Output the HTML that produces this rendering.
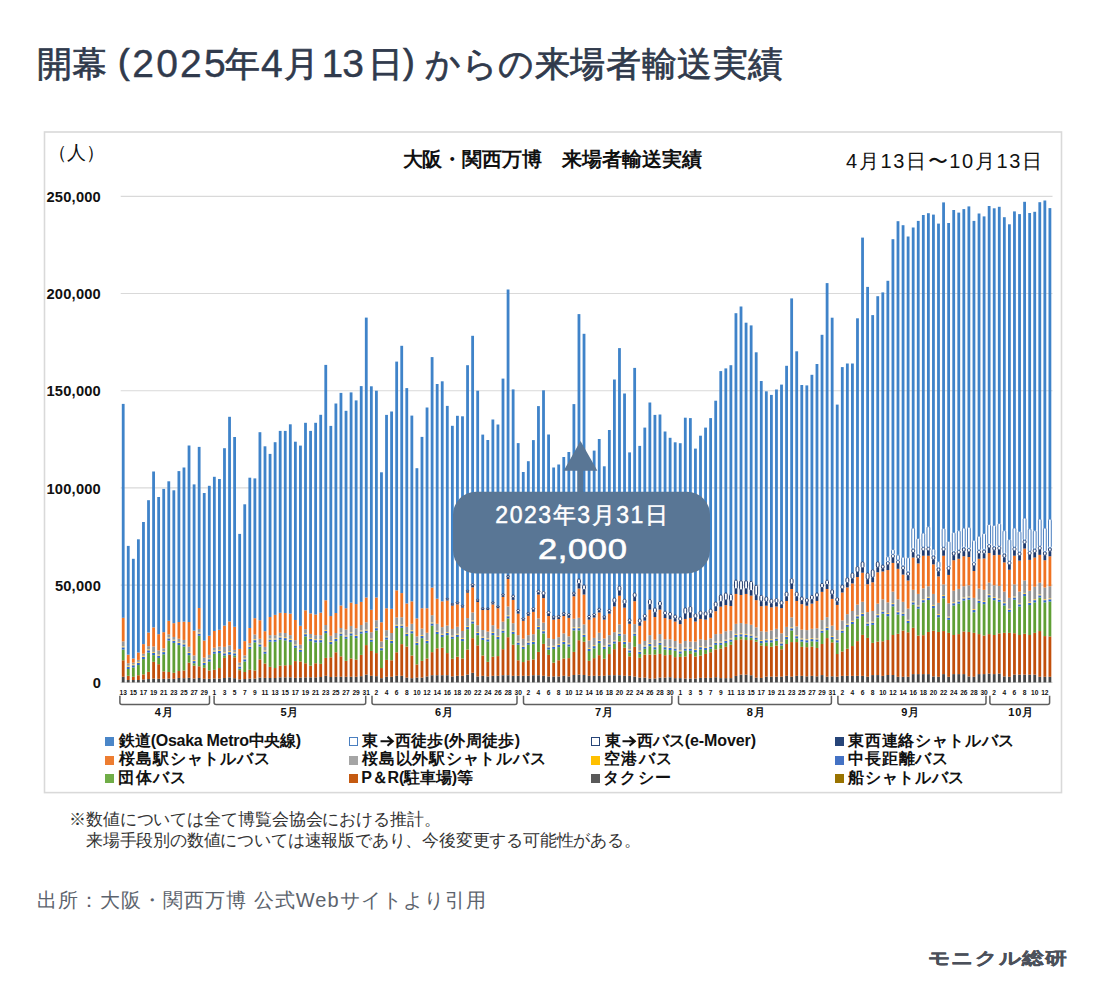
<!DOCTYPE html>
<html><head><meta charset="utf-8"><style>
html,body{margin:0;padding:0;background:#fff;width:1104px;height:1004px;overflow:hidden;position:relative;font-family:"Liberation Sans",sans-serif}
.chart{position:absolute;left:0;top:0}
.t{position:absolute;white-space:nowrap;line-height:1}
.tl{color:#303a4c;-webkit-text-stroke:0.7px #303a4c}
.unit{left:48px;top:143px;font-size:19px;color:#111}
.yl{position:absolute;right:1003px;font-size:14.7px;font-weight:bold;color:#111;line-height:16px;letter-spacing:0.2px;white-space:nowrap}
.ml{position:absolute;top:706.3px;width:60px;text-align:center;font-size:11px;font-weight:bold;color:#111;line-height:12px;letter-spacing:0.8px}
.lsq{position:absolute;width:9px;height:9px}
</style></head><body>
<svg class="chart" width="1104" height="1004" viewBox="0 0 1104 1004">
<rect x="44.5" y="132" width="1017" height="660.6" fill="#fff" stroke="#d9d9d9" stroke-width="1.6"/>
<line x1="120.7" y1="682.40" x2="1052.5" y2="682.40" stroke="#d9d9d9" stroke-width="1.2"/><line x1="120.7" y1="585.18" x2="1052.5" y2="585.18" stroke="#d9d9d9" stroke-width="1.2"/><line x1="120.7" y1="487.96" x2="1052.5" y2="487.96" stroke="#d9d9d9" stroke-width="1.2"/><line x1="120.7" y1="390.74" x2="1052.5" y2="390.74" stroke="#d9d9d9" stroke-width="1.2"/><line x1="120.7" y1="293.52" x2="1052.5" y2="293.52" stroke="#d9d9d9" stroke-width="1.2"/><line x1="120.7" y1="196.30" x2="1052.5" y2="196.30" stroke="#d9d9d9" stroke-width="1.2"/>
<g><rect x="121.80" y="676.77" width="2.8" height="5.63" fill="#464646"/><rect x="121.80" y="660.27" width="2.8" height="16.50" fill="#c24f0c"/><rect x="121.80" y="649.51" width="2.8" height="10.76" fill="#5f9f35"/><rect x="121.80" y="647.31" width="2.8" height="2.20" fill="#2f67c4"/><rect x="121.80" y="646.31" width="2.8" height="1.00" fill="#f5c040"/><rect x="121.80" y="641.38" width="2.8" height="4.93" fill="#959595"/><rect x="121.80" y="617.82" width="2.8" height="23.55" fill="#ef7222"/><rect x="121.80" y="403.90" width="2.8" height="213.92" fill="#3f83c9"/><rect x="126.86" y="680.00" width="2.8" height="2.40" fill="#464646"/><rect x="126.86" y="675.81" width="2.8" height="4.18" fill="#c24f0c"/><rect x="126.86" y="669.00" width="2.8" height="6.81" fill="#5f9f35"/><rect x="126.86" y="666.80" width="2.8" height="2.20" fill="#2f67c4"/><rect x="126.86" y="665.80" width="2.8" height="1.00" fill="#f5c040"/><rect x="126.86" y="663.26" width="2.8" height="2.54" fill="#959595"/><rect x="126.86" y="654.65" width="2.8" height="8.61" fill="#ef7222"/><rect x="126.86" y="545.90" width="2.8" height="108.75" fill="#3f83c9"/><rect x="131.93" y="680.00" width="2.8" height="2.40" fill="#464646"/><rect x="131.93" y="676.77" width="2.8" height="3.23" fill="#c24f0c"/><rect x="131.93" y="667.44" width="2.8" height="9.33" fill="#5f9f35"/><rect x="131.93" y="665.24" width="2.8" height="2.20" fill="#2f67c4"/><rect x="131.93" y="664.24" width="2.8" height="1.00" fill="#f5c040"/><rect x="131.93" y="662.66" width="2.8" height="1.58" fill="#959595"/><rect x="131.93" y="658.47" width="2.8" height="4.18" fill="#ef7222"/><rect x="131.93" y="558.80" width="2.8" height="99.67" fill="#3f83c9"/><rect x="136.99" y="680.00" width="2.8" height="2.40" fill="#464646"/><rect x="136.99" y="675.21" width="2.8" height="4.78" fill="#c24f0c"/><rect x="136.99" y="665.05" width="2.8" height="10.16" fill="#5f9f35"/><rect x="136.99" y="662.85" width="2.8" height="2.20" fill="#2f67c4"/><rect x="136.99" y="661.85" width="2.8" height="1.00" fill="#f5c040"/><rect x="136.99" y="659.91" width="2.8" height="1.94" fill="#959595"/><rect x="136.99" y="652.50" width="2.8" height="7.41" fill="#ef7222"/><rect x="136.99" y="539.30" width="2.8" height="113.20" fill="#3f83c9"/><rect x="142.06" y="679.40" width="2.8" height="3.00" fill="#464646"/><rect x="142.06" y="674.38" width="2.8" height="5.02" fill="#c24f0c"/><rect x="142.06" y="659.07" width="2.8" height="15.30" fill="#5f9f35"/><rect x="142.06" y="656.87" width="2.8" height="2.20" fill="#2f67c4"/><rect x="142.06" y="655.87" width="2.8" height="1.00" fill="#f5c040"/><rect x="142.06" y="653.69" width="2.8" height="2.18" fill="#959595"/><rect x="142.06" y="644.13" width="2.8" height="9.56" fill="#ef7222"/><rect x="142.06" y="522.00" width="2.8" height="122.13" fill="#3f83c9"/><rect x="147.12" y="679.04" width="2.8" height="3.36" fill="#464646"/><rect x="147.12" y="671.87" width="2.8" height="7.17" fill="#c24f0c"/><rect x="147.12" y="652.50" width="2.8" height="19.37" fill="#5f9f35"/><rect x="147.12" y="650.30" width="2.8" height="2.20" fill="#2f67c4"/><rect x="147.12" y="649.30" width="2.8" height="1.00" fill="#f5c040"/><rect x="147.12" y="646.16" width="2.8" height="3.14" fill="#959595"/><rect x="147.12" y="632.53" width="2.8" height="13.63" fill="#ef7222"/><rect x="147.12" y="500.20" width="2.8" height="132.33" fill="#3f83c9"/><rect x="152.18" y="678.56" width="2.8" height="3.84" fill="#464646"/><rect x="152.18" y="661.82" width="2.8" height="16.74" fill="#c24f0c"/><rect x="152.18" y="655.13" width="2.8" height="6.70" fill="#5f9f35"/><rect x="152.18" y="652.93" width="2.8" height="2.20" fill="#2f67c4"/><rect x="152.18" y="651.93" width="2.8" height="1.00" fill="#f5c040"/><rect x="152.18" y="646.52" width="2.8" height="5.41" fill="#959595"/><rect x="152.18" y="627.39" width="2.8" height="19.13" fill="#ef7222"/><rect x="152.18" y="471.50" width="2.8" height="155.89" fill="#3f83c9"/><rect x="157.25" y="678.80" width="2.8" height="3.60" fill="#464646"/><rect x="157.25" y="664.21" width="2.8" height="14.59" fill="#c24f0c"/><rect x="157.25" y="657.88" width="2.8" height="6.34" fill="#5f9f35"/><rect x="157.25" y="655.68" width="2.8" height="2.20" fill="#2f67c4"/><rect x="157.25" y="654.68" width="2.8" height="1.00" fill="#f5c040"/><rect x="157.25" y="650.46" width="2.8" height="4.21" fill="#959595"/><rect x="157.25" y="634.20" width="2.8" height="16.26" fill="#ef7222"/><rect x="157.25" y="497.00" width="2.8" height="137.20" fill="#3f83c9"/><rect x="162.31" y="678.80" width="2.8" height="3.60" fill="#464646"/><rect x="162.31" y="671.39" width="2.8" height="7.41" fill="#c24f0c"/><rect x="162.31" y="654.29" width="2.8" height="17.10" fill="#5f9f35"/><rect x="162.31" y="652.09" width="2.8" height="2.20" fill="#2f67c4"/><rect x="162.31" y="651.09" width="2.8" height="1.00" fill="#f5c040"/><rect x="162.31" y="648.31" width="2.8" height="2.78" fill="#959595"/><rect x="162.31" y="632.17" width="2.8" height="16.14" fill="#ef7222"/><rect x="162.31" y="488.90" width="2.8" height="143.27" fill="#3f83c9"/><rect x="167.38" y="678.56" width="2.8" height="3.84" fill="#464646"/><rect x="167.38" y="671.98" width="2.8" height="6.58" fill="#c24f0c"/><rect x="167.38" y="640.54" width="2.8" height="31.44" fill="#5f9f35"/><rect x="167.38" y="638.34" width="2.8" height="2.20" fill="#2f67c4"/><rect x="167.38" y="637.34" width="2.8" height="1.00" fill="#f5c040"/><rect x="167.38" y="634.32" width="2.8" height="3.02" fill="#959595"/><rect x="167.38" y="620.81" width="2.8" height="13.51" fill="#ef7222"/><rect x="167.38" y="481.30" width="2.8" height="139.51" fill="#3f83c9"/><rect x="172.44" y="678.80" width="2.8" height="3.60" fill="#464646"/><rect x="172.44" y="672.82" width="2.8" height="5.98" fill="#c24f0c"/><rect x="172.44" y="642.93" width="2.8" height="29.89" fill="#5f9f35"/><rect x="172.44" y="640.73" width="2.8" height="2.20" fill="#2f67c4"/><rect x="172.44" y="639.73" width="2.8" height="1.00" fill="#f5c040"/><rect x="172.44" y="636.95" width="2.8" height="2.78" fill="#959595"/><rect x="172.44" y="623.20" width="2.8" height="13.75" fill="#ef7222"/><rect x="172.44" y="490.30" width="2.8" height="132.90" fill="#3f83c9"/><rect x="177.50" y="677.96" width="2.8" height="4.44" fill="#464646"/><rect x="177.50" y="671.03" width="2.8" height="6.93" fill="#c24f0c"/><rect x="177.50" y="645.08" width="2.8" height="25.94" fill="#5f9f35"/><rect x="177.50" y="642.88" width="2.8" height="2.20" fill="#2f67c4"/><rect x="177.50" y="641.88" width="2.8" height="1.00" fill="#f5c040"/><rect x="177.50" y="638.75" width="2.8" height="3.14" fill="#959595"/><rect x="177.50" y="622.01" width="2.8" height="16.74" fill="#ef7222"/><rect x="177.50" y="471.10" width="2.8" height="150.91" fill="#3f83c9"/><rect x="182.57" y="678.20" width="2.8" height="4.20" fill="#464646"/><rect x="182.57" y="670.43" width="2.8" height="7.77" fill="#c24f0c"/><rect x="182.57" y="646.52" width="2.8" height="23.91" fill="#5f9f35"/><rect x="182.57" y="644.32" width="2.8" height="2.20" fill="#2f67c4"/><rect x="182.57" y="643.32" width="2.8" height="1.00" fill="#f5c040"/><rect x="182.57" y="639.94" width="2.8" height="3.38" fill="#959595"/><rect x="182.57" y="621.65" width="2.8" height="18.29" fill="#ef7222"/><rect x="182.57" y="467.50" width="2.8" height="154.15" fill="#3f83c9"/><rect x="187.63" y="677.84" width="2.8" height="4.56" fill="#464646"/><rect x="187.63" y="662.66" width="2.8" height="15.18" fill="#c24f0c"/><rect x="187.63" y="655.13" width="2.8" height="7.53" fill="#5f9f35"/><rect x="187.63" y="652.93" width="2.8" height="2.20" fill="#2f67c4"/><rect x="187.63" y="651.93" width="2.8" height="1.00" fill="#f5c040"/><rect x="187.63" y="646.76" width="2.8" height="5.17" fill="#959595"/><rect x="187.63" y="622.01" width="2.8" height="24.75" fill="#ef7222"/><rect x="187.63" y="445.50" width="2.8" height="176.51" fill="#3f83c9"/><rect x="192.70" y="678.56" width="2.8" height="3.84" fill="#464646"/><rect x="192.70" y="665.65" width="2.8" height="12.91" fill="#c24f0c"/><rect x="192.70" y="663.26" width="2.8" height="2.39" fill="#5f9f35"/><rect x="192.70" y="661.06" width="2.8" height="2.20" fill="#2f67c4"/><rect x="192.70" y="660.06" width="2.8" height="1.00" fill="#f5c040"/><rect x="192.70" y="655.49" width="2.8" height="4.57" fill="#959595"/><rect x="192.70" y="630.62" width="2.8" height="24.87" fill="#ef7222"/><rect x="192.70" y="484.40" width="2.8" height="146.22" fill="#3f83c9"/><rect x="197.76" y="677.96" width="2.8" height="4.44" fill="#464646"/><rect x="197.76" y="666.25" width="2.8" height="11.72" fill="#c24f0c"/><rect x="197.76" y="635.76" width="2.8" height="30.49" fill="#5f9f35"/><rect x="197.76" y="633.56" width="2.8" height="2.20" fill="#2f67c4"/><rect x="197.76" y="632.56" width="2.8" height="1.00" fill="#f5c040"/><rect x="197.76" y="628.94" width="2.8" height="3.61" fill="#959595"/><rect x="197.76" y="608.02" width="2.8" height="20.92" fill="#ef7222"/><rect x="197.76" y="446.90" width="2.8" height="161.12" fill="#3f83c9"/><rect x="202.82" y="678.80" width="2.8" height="3.60" fill="#464646"/><rect x="202.82" y="667.80" width="2.8" height="11.00" fill="#c24f0c"/><rect x="202.82" y="665.05" width="2.8" height="2.75" fill="#5f9f35"/><rect x="202.82" y="662.85" width="2.8" height="2.20" fill="#2f67c4"/><rect x="202.82" y="661.85" width="2.8" height="1.00" fill="#f5c040"/><rect x="202.82" y="657.64" width="2.8" height="4.21" fill="#959595"/><rect x="202.82" y="640.54" width="2.8" height="17.10" fill="#ef7222"/><rect x="202.82" y="493.00" width="2.8" height="147.54" fill="#3f83c9"/><rect x="207.89" y="678.80" width="2.8" height="3.60" fill="#464646"/><rect x="207.89" y="670.43" width="2.8" height="8.37" fill="#c24f0c"/><rect x="207.89" y="661.46" width="2.8" height="8.97" fill="#5f9f35"/><rect x="207.89" y="659.26" width="2.8" height="2.20" fill="#2f67c4"/><rect x="207.89" y="658.26" width="2.8" height="1.00" fill="#f5c040"/><rect x="207.89" y="654.89" width="2.8" height="3.38" fill="#959595"/><rect x="207.89" y="635.76" width="2.8" height="19.13" fill="#ef7222"/><rect x="207.89" y="485.80" width="2.8" height="149.96" fill="#3f83c9"/><rect x="212.95" y="678.56" width="2.8" height="3.84" fill="#464646"/><rect x="212.95" y="669.83" width="2.8" height="8.73" fill="#c24f0c"/><rect x="212.95" y="653.69" width="2.8" height="16.14" fill="#5f9f35"/><rect x="212.95" y="651.49" width="2.8" height="2.20" fill="#2f67c4"/><rect x="212.95" y="650.49" width="2.8" height="1.00" fill="#f5c040"/><rect x="212.95" y="647.71" width="2.8" height="2.78" fill="#959595"/><rect x="212.95" y="630.98" width="2.8" height="16.74" fill="#ef7222"/><rect x="212.95" y="476.80" width="2.8" height="154.18" fill="#3f83c9"/><rect x="218.02" y="678.56" width="2.8" height="3.84" fill="#464646"/><rect x="218.02" y="668.04" width="2.8" height="10.52" fill="#c24f0c"/><rect x="218.02" y="653.09" width="2.8" height="14.95" fill="#5f9f35"/><rect x="218.02" y="650.89" width="2.8" height="2.20" fill="#2f67c4"/><rect x="218.02" y="649.89" width="2.8" height="1.00" fill="#f5c040"/><rect x="218.02" y="646.52" width="2.8" height="3.38" fill="#959595"/><rect x="218.02" y="629.78" width="2.8" height="16.74" fill="#ef7222"/><rect x="218.02" y="479.00" width="2.8" height="150.78" fill="#3f83c9"/><rect x="223.08" y="677.96" width="2.8" height="4.44" fill="#464646"/><rect x="223.08" y="657.88" width="2.8" height="20.09" fill="#c24f0c"/><rect x="223.08" y="655.49" width="2.8" height="2.39" fill="#5f9f35"/><rect x="223.08" y="653.29" width="2.8" height="2.20" fill="#2f67c4"/><rect x="223.08" y="652.29" width="2.8" height="1.00" fill="#f5c040"/><rect x="223.08" y="646.88" width="2.8" height="5.41" fill="#959595"/><rect x="223.08" y="625.60" width="2.8" height="21.28" fill="#ef7222"/><rect x="223.08" y="448.20" width="2.8" height="177.40" fill="#3f83c9"/><rect x="228.14" y="677.36" width="2.8" height="5.04" fill="#464646"/><rect x="228.14" y="654.89" width="2.8" height="22.48" fill="#c24f0c"/><rect x="228.14" y="654.29" width="2.8" height="0.60" fill="#5f9f35"/><rect x="228.14" y="652.09" width="2.8" height="2.20" fill="#2f67c4"/><rect x="228.14" y="651.09" width="2.8" height="1.00" fill="#f5c040"/><rect x="228.14" y="645.32" width="2.8" height="5.77" fill="#959595"/><rect x="228.14" y="621.41" width="2.8" height="23.91" fill="#ef7222"/><rect x="228.14" y="416.80" width="2.8" height="204.61" fill="#3f83c9"/><rect x="233.21" y="678.20" width="2.8" height="4.20" fill="#464646"/><rect x="233.21" y="657.28" width="2.8" height="20.92" fill="#c24f0c"/><rect x="233.21" y="655.49" width="2.8" height="1.79" fill="#5f9f35"/><rect x="233.21" y="653.29" width="2.8" height="2.20" fill="#2f67c4"/><rect x="233.21" y="652.29" width="2.8" height="1.00" fill="#f5c040"/><rect x="233.21" y="649.87" width="2.8" height="2.42" fill="#959595"/><rect x="233.21" y="626.79" width="2.8" height="23.08" fill="#ef7222"/><rect x="233.21" y="437.00" width="2.8" height="189.79" fill="#3f83c9"/><rect x="238.27" y="679.40" width="2.8" height="3.00" fill="#464646"/><rect x="238.27" y="670.19" width="2.8" height="9.21" fill="#c24f0c"/><rect x="238.27" y="668.64" width="2.8" height="1.55" fill="#5f9f35"/><rect x="238.27" y="666.44" width="2.8" height="2.20" fill="#2f67c4"/><rect x="238.27" y="665.44" width="2.8" height="1.00" fill="#f5c040"/><rect x="238.27" y="662.66" width="2.8" height="2.78" fill="#959595"/><rect x="238.27" y="648.91" width="2.8" height="13.75" fill="#ef7222"/><rect x="238.27" y="533.90" width="2.8" height="115.01" fill="#3f83c9"/><rect x="243.34" y="679.04" width="2.8" height="3.36" fill="#464646"/><rect x="243.34" y="671.98" width="2.8" height="7.05" fill="#c24f0c"/><rect x="243.34" y="661.46" width="2.8" height="10.52" fill="#5f9f35"/><rect x="243.34" y="659.26" width="2.8" height="2.20" fill="#2f67c4"/><rect x="243.34" y="658.26" width="2.8" height="1.00" fill="#f5c040"/><rect x="243.34" y="655.49" width="2.8" height="2.78" fill="#959595"/><rect x="243.34" y="641.14" width="2.8" height="14.35" fill="#ef7222"/><rect x="243.34" y="504.30" width="2.8" height="136.84" fill="#3f83c9"/><rect x="248.40" y="678.56" width="2.8" height="3.84" fill="#464646"/><rect x="248.40" y="669.83" width="2.8" height="8.73" fill="#c24f0c"/><rect x="248.40" y="648.91" width="2.8" height="20.92" fill="#5f9f35"/><rect x="248.40" y="646.71" width="2.8" height="2.20" fill="#2f67c4"/><rect x="248.40" y="645.71" width="2.8" height="1.00" fill="#f5c040"/><rect x="248.40" y="643.17" width="2.8" height="2.54" fill="#959595"/><rect x="248.40" y="627.99" width="2.8" height="15.18" fill="#ef7222"/><rect x="248.40" y="477.70" width="2.8" height="150.29" fill="#3f83c9"/><rect x="253.46" y="678.56" width="2.8" height="3.84" fill="#464646"/><rect x="253.46" y="670.43" width="2.8" height="8.13" fill="#c24f0c"/><rect x="253.46" y="642.33" width="2.8" height="28.10" fill="#5f9f35"/><rect x="253.46" y="640.13" width="2.8" height="2.20" fill="#2f67c4"/><rect x="253.46" y="639.13" width="2.8" height="1.00" fill="#f5c040"/><rect x="253.46" y="634.56" width="2.8" height="4.57" fill="#959595"/><rect x="253.46" y="618.18" width="2.8" height="16.38" fill="#ef7222"/><rect x="253.46" y="478.40" width="2.8" height="139.78" fill="#3f83c9"/><rect x="258.53" y="677.60" width="2.8" height="4.80" fill="#464646"/><rect x="258.53" y="659.43" width="2.8" height="18.17" fill="#c24f0c"/><rect x="258.53" y="646.52" width="2.8" height="12.91" fill="#5f9f35"/><rect x="258.53" y="644.32" width="2.8" height="2.20" fill="#2f67c4"/><rect x="258.53" y="643.32" width="2.8" height="1.00" fill="#f5c040"/><rect x="258.53" y="638.75" width="2.8" height="4.57" fill="#959595"/><rect x="258.53" y="620.22" width="2.8" height="18.53" fill="#ef7222"/><rect x="258.53" y="432.20" width="2.8" height="188.02" fill="#3f83c9"/><rect x="263.59" y="677.84" width="2.8" height="4.56" fill="#464646"/><rect x="263.59" y="663.50" width="2.8" height="14.35" fill="#c24f0c"/><rect x="263.59" y="653.69" width="2.8" height="9.80" fill="#5f9f35"/><rect x="263.59" y="651.49" width="2.8" height="2.20" fill="#2f67c4"/><rect x="263.59" y="650.49" width="2.8" height="1.00" fill="#f5c040"/><rect x="263.59" y="646.88" width="2.8" height="3.61" fill="#959595"/><rect x="263.59" y="631.21" width="2.8" height="15.66" fill="#ef7222"/><rect x="263.59" y="446.30" width="2.8" height="184.91" fill="#3f83c9"/><rect x="268.66" y="677.96" width="2.8" height="4.44" fill="#464646"/><rect x="268.66" y="666.84" width="2.8" height="11.12" fill="#c24f0c"/><rect x="268.66" y="641.74" width="2.8" height="25.11" fill="#5f9f35"/><rect x="268.66" y="639.54" width="2.8" height="2.20" fill="#2f67c4"/><rect x="268.66" y="638.54" width="2.8" height="1.00" fill="#f5c040"/><rect x="268.66" y="635.16" width="2.8" height="3.38" fill="#959595"/><rect x="268.66" y="616.99" width="2.8" height="18.17" fill="#ef7222"/><rect x="268.66" y="453.90" width="2.8" height="163.09" fill="#3f83c9"/><rect x="273.72" y="677.96" width="2.8" height="4.44" fill="#464646"/><rect x="273.72" y="668.04" width="2.8" height="9.92" fill="#c24f0c"/><rect x="273.72" y="641.74" width="2.8" height="26.30" fill="#5f9f35"/><rect x="273.72" y="639.54" width="2.8" height="2.20" fill="#2f67c4"/><rect x="273.72" y="638.54" width="2.8" height="1.00" fill="#f5c040"/><rect x="273.72" y="635.16" width="2.8" height="3.38" fill="#959595"/><rect x="273.72" y="614.84" width="2.8" height="20.33" fill="#ef7222"/><rect x="273.72" y="442.20" width="2.8" height="172.64" fill="#3f83c9"/><rect x="278.78" y="677.36" width="2.8" height="5.04" fill="#464646"/><rect x="278.78" y="665.65" width="2.8" height="11.72" fill="#c24f0c"/><rect x="278.78" y="639.58" width="2.8" height="26.06" fill="#5f9f35"/><rect x="278.78" y="637.38" width="2.8" height="2.20" fill="#2f67c4"/><rect x="278.78" y="636.38" width="2.8" height="1.00" fill="#f5c040"/><rect x="278.78" y="632.77" width="2.8" height="3.61" fill="#959595"/><rect x="278.78" y="612.80" width="2.8" height="19.97" fill="#ef7222"/><rect x="278.78" y="430.90" width="2.8" height="181.90" fill="#3f83c9"/><rect x="283.85" y="677.36" width="2.8" height="5.04" fill="#464646"/><rect x="283.85" y="665.29" width="2.8" height="12.08" fill="#c24f0c"/><rect x="283.85" y="640.30" width="2.8" height="24.99" fill="#5f9f35"/><rect x="283.85" y="638.10" width="2.8" height="2.20" fill="#2f67c4"/><rect x="283.85" y="637.10" width="2.8" height="1.00" fill="#f5c040"/><rect x="283.85" y="633.01" width="2.8" height="4.09" fill="#959595"/><rect x="283.85" y="613.04" width="2.8" height="19.97" fill="#ef7222"/><rect x="283.85" y="430.90" width="2.8" height="182.14" fill="#3f83c9"/><rect x="288.91" y="677.36" width="2.8" height="5.04" fill="#464646"/><rect x="288.91" y="665.05" width="2.8" height="12.31" fill="#c24f0c"/><rect x="288.91" y="642.09" width="2.8" height="22.96" fill="#5f9f35"/><rect x="288.91" y="639.89" width="2.8" height="2.20" fill="#2f67c4"/><rect x="288.91" y="638.89" width="2.8" height="1.00" fill="#f5c040"/><rect x="288.91" y="635.16" width="2.8" height="3.73" fill="#959595"/><rect x="288.91" y="613.64" width="2.8" height="21.52" fill="#ef7222"/><rect x="288.91" y="424.30" width="2.8" height="189.34" fill="#3f83c9"/><rect x="293.98" y="677.84" width="2.8" height="4.56" fill="#464646"/><rect x="293.98" y="661.10" width="2.8" height="16.74" fill="#c24f0c"/><rect x="293.98" y="647.71" width="2.8" height="13.39" fill="#5f9f35"/><rect x="293.98" y="645.51" width="2.8" height="2.20" fill="#2f67c4"/><rect x="293.98" y="644.51" width="2.8" height="1.00" fill="#f5c040"/><rect x="293.98" y="640.18" width="2.8" height="4.33" fill="#959595"/><rect x="293.98" y="619.98" width="2.8" height="20.21" fill="#ef7222"/><rect x="293.98" y="441.70" width="2.8" height="178.28" fill="#3f83c9"/><rect x="299.04" y="677.60" width="2.8" height="4.80" fill="#464646"/><rect x="299.04" y="661.46" width="2.8" height="16.14" fill="#c24f0c"/><rect x="299.04" y="651.90" width="2.8" height="9.56" fill="#5f9f35"/><rect x="299.04" y="649.70" width="2.8" height="2.20" fill="#2f67c4"/><rect x="299.04" y="648.70" width="2.8" height="1.00" fill="#f5c040"/><rect x="299.04" y="644.73" width="2.8" height="3.97" fill="#959595"/><rect x="299.04" y="625.83" width="2.8" height="18.89" fill="#ef7222"/><rect x="299.04" y="445.60" width="2.8" height="180.23" fill="#3f83c9"/><rect x="304.10" y="677.36" width="2.8" height="5.04" fill="#464646"/><rect x="304.10" y="663.26" width="2.8" height="14.11" fill="#c24f0c"/><rect x="304.10" y="636.36" width="2.8" height="26.90" fill="#5f9f35"/><rect x="304.10" y="634.16" width="2.8" height="2.20" fill="#2f67c4"/><rect x="304.10" y="633.16" width="2.8" height="1.00" fill="#f5c040"/><rect x="304.10" y="629.18" width="2.8" height="3.97" fill="#959595"/><rect x="304.10" y="610.29" width="2.8" height="18.89" fill="#ef7222"/><rect x="304.10" y="422.80" width="2.8" height="187.49" fill="#3f83c9"/><rect x="309.17" y="677.36" width="2.8" height="5.04" fill="#464646"/><rect x="309.17" y="665.65" width="2.8" height="11.72" fill="#c24f0c"/><rect x="309.17" y="641.14" width="2.8" height="24.51" fill="#5f9f35"/><rect x="309.17" y="638.94" width="2.8" height="2.20" fill="#2f67c4"/><rect x="309.17" y="637.94" width="2.8" height="1.00" fill="#f5c040"/><rect x="309.17" y="633.96" width="2.8" height="3.97" fill="#959595"/><rect x="309.17" y="613.40" width="2.8" height="20.56" fill="#ef7222"/><rect x="309.17" y="430.90" width="2.8" height="182.50" fill="#3f83c9"/><rect x="314.23" y="677.36" width="2.8" height="5.04" fill="#464646"/><rect x="314.23" y="663.26" width="2.8" height="14.11" fill="#c24f0c"/><rect x="314.23" y="642.33" width="2.8" height="20.92" fill="#5f9f35"/><rect x="314.23" y="640.13" width="2.8" height="2.20" fill="#2f67c4"/><rect x="314.23" y="639.13" width="2.8" height="1.00" fill="#f5c040"/><rect x="314.23" y="635.16" width="2.8" height="3.97" fill="#959595"/><rect x="314.23" y="614.48" width="2.8" height="20.68" fill="#ef7222"/><rect x="314.23" y="422.80" width="2.8" height="191.68" fill="#3f83c9"/><rect x="319.30" y="677.01" width="2.8" height="5.39" fill="#464646"/><rect x="319.30" y="663.85" width="2.8" height="13.15" fill="#c24f0c"/><rect x="319.30" y="642.33" width="2.8" height="21.52" fill="#5f9f35"/><rect x="319.30" y="640.13" width="2.8" height="2.20" fill="#2f67c4"/><rect x="319.30" y="639.13" width="2.8" height="1.00" fill="#f5c040"/><rect x="319.30" y="635.16" width="2.8" height="3.97" fill="#959595"/><rect x="319.30" y="612.68" width="2.8" height="22.48" fill="#ef7222"/><rect x="319.30" y="414.80" width="2.8" height="197.88" fill="#3f83c9"/><rect x="324.36" y="675.81" width="2.8" height="6.59" fill="#464646"/><rect x="324.36" y="657.88" width="2.8" height="17.93" fill="#c24f0c"/><rect x="324.36" y="633.13" width="2.8" height="24.75" fill="#5f9f35"/><rect x="324.36" y="630.93" width="2.8" height="2.20" fill="#2f67c4"/><rect x="324.36" y="629.93" width="2.8" height="1.00" fill="#f5c040"/><rect x="324.36" y="625.00" width="2.8" height="4.93" fill="#959595"/><rect x="324.36" y="600.25" width="2.8" height="24.75" fill="#ef7222"/><rect x="324.36" y="364.90" width="2.8" height="235.35" fill="#3f83c9"/><rect x="329.42" y="677.01" width="2.8" height="5.39" fill="#464646"/><rect x="329.42" y="657.28" width="2.8" height="19.73" fill="#c24f0c"/><rect x="329.42" y="644.13" width="2.8" height="13.15" fill="#5f9f35"/><rect x="329.42" y="641.93" width="2.8" height="2.20" fill="#2f67c4"/><rect x="329.42" y="640.93" width="2.8" height="1.00" fill="#f5c040"/><rect x="329.42" y="635.76" width="2.8" height="5.17" fill="#959595"/><rect x="329.42" y="616.03" width="2.8" height="19.73" fill="#ef7222"/><rect x="329.42" y="425.90" width="2.8" height="190.13" fill="#3f83c9"/><rect x="334.49" y="676.77" width="2.8" height="5.63" fill="#464646"/><rect x="334.49" y="652.26" width="2.8" height="24.51" fill="#c24f0c"/><rect x="334.49" y="641.14" width="2.8" height="11.12" fill="#5f9f35"/><rect x="334.49" y="638.94" width="2.8" height="2.20" fill="#2f67c4"/><rect x="334.49" y="637.94" width="2.8" height="1.00" fill="#f5c040"/><rect x="334.49" y="633.01" width="2.8" height="4.93" fill="#959595"/><rect x="334.49" y="613.04" width="2.8" height="19.97" fill="#ef7222"/><rect x="334.49" y="403.50" width="2.8" height="209.54" fill="#3f83c9"/><rect x="339.55" y="676.77" width="2.8" height="5.63" fill="#464646"/><rect x="339.55" y="656.32" width="2.8" height="20.44" fill="#c24f0c"/><rect x="339.55" y="635.76" width="2.8" height="20.56" fill="#5f9f35"/><rect x="339.55" y="633.56" width="2.8" height="2.20" fill="#2f67c4"/><rect x="339.55" y="632.56" width="2.8" height="1.00" fill="#f5c040"/><rect x="339.55" y="627.99" width="2.8" height="4.57" fill="#959595"/><rect x="339.55" y="605.51" width="2.8" height="22.48" fill="#ef7222"/><rect x="339.55" y="392.90" width="2.8" height="212.61" fill="#3f83c9"/><rect x="344.62" y="676.77" width="2.8" height="5.63" fill="#464646"/><rect x="344.62" y="660.87" width="2.8" height="15.90" fill="#c24f0c"/><rect x="344.62" y="638.75" width="2.8" height="22.12" fill="#5f9f35"/><rect x="344.62" y="636.55" width="2.8" height="2.20" fill="#2f67c4"/><rect x="344.62" y="635.55" width="2.8" height="1.00" fill="#f5c040"/><rect x="344.62" y="629.54" width="2.8" height="6.01" fill="#959595"/><rect x="344.62" y="608.26" width="2.8" height="21.28" fill="#ef7222"/><rect x="344.62" y="410.80" width="2.8" height="197.46" fill="#3f83c9"/><rect x="349.68" y="676.77" width="2.8" height="5.63" fill="#464646"/><rect x="349.68" y="658.47" width="2.8" height="18.29" fill="#c24f0c"/><rect x="349.68" y="635.52" width="2.8" height="22.96" fill="#5f9f35"/><rect x="349.68" y="633.32" width="2.8" height="2.20" fill="#2f67c4"/><rect x="349.68" y="632.32" width="2.8" height="1.00" fill="#f5c040"/><rect x="349.68" y="625.95" width="2.8" height="6.36" fill="#959595"/><rect x="349.68" y="602.64" width="2.8" height="23.31" fill="#ef7222"/><rect x="349.68" y="392.40" width="2.8" height="210.24" fill="#3f83c9"/><rect x="354.74" y="676.77" width="2.8" height="5.63" fill="#464646"/><rect x="354.74" y="659.67" width="2.8" height="17.10" fill="#c24f0c"/><rect x="354.74" y="638.15" width="2.8" height="21.52" fill="#5f9f35"/><rect x="354.74" y="635.95" width="2.8" height="2.20" fill="#2f67c4"/><rect x="354.74" y="634.95" width="2.8" height="1.00" fill="#f5c040"/><rect x="354.74" y="628.35" width="2.8" height="6.60" fill="#959595"/><rect x="354.74" y="604.07" width="2.8" height="24.27" fill="#ef7222"/><rect x="354.74" y="400.40" width="2.8" height="203.67" fill="#3f83c9"/><rect x="359.81" y="676.17" width="2.8" height="6.23" fill="#464646"/><rect x="359.81" y="654.89" width="2.8" height="21.28" fill="#c24f0c"/><rect x="359.81" y="633.61" width="2.8" height="21.28" fill="#5f9f35"/><rect x="359.81" y="631.41" width="2.8" height="2.20" fill="#2f67c4"/><rect x="359.81" y="630.41" width="2.8" height="1.00" fill="#f5c040"/><rect x="359.81" y="625.00" width="2.8" height="5.41" fill="#959595"/><rect x="359.81" y="601.92" width="2.8" height="23.08" fill="#ef7222"/><rect x="359.81" y="386.10" width="2.8" height="215.82" fill="#3f83c9"/><rect x="364.87" y="674.62" width="2.8" height="7.78" fill="#464646"/><rect x="364.87" y="645.08" width="2.8" height="29.53" fill="#c24f0c"/><rect x="364.87" y="632.77" width="2.8" height="12.31" fill="#5f9f35"/><rect x="364.87" y="630.57" width="2.8" height="2.20" fill="#2f67c4"/><rect x="364.87" y="629.57" width="2.8" height="1.00" fill="#f5c040"/><rect x="364.87" y="622.25" width="2.8" height="7.32" fill="#959595"/><rect x="364.87" y="597.50" width="2.8" height="24.75" fill="#ef7222"/><rect x="364.87" y="317.60" width="2.8" height="279.90" fill="#3f83c9"/><rect x="369.94" y="675.81" width="2.8" height="6.59" fill="#464646"/><rect x="369.94" y="650.94" width="2.8" height="24.87" fill="#c24f0c"/><rect x="369.94" y="641.74" width="2.8" height="9.21" fill="#5f9f35"/><rect x="369.94" y="639.54" width="2.8" height="2.20" fill="#2f67c4"/><rect x="369.94" y="638.54" width="2.8" height="1.00" fill="#f5c040"/><rect x="369.94" y="632.17" width="2.8" height="6.36" fill="#959595"/><rect x="369.94" y="609.81" width="2.8" height="22.36" fill="#ef7222"/><rect x="369.94" y="386.30" width="2.8" height="223.51" fill="#3f83c9"/><rect x="375.00" y="676.17" width="2.8" height="6.23" fill="#464646"/><rect x="375.00" y="653.09" width="2.8" height="23.08" fill="#c24f0c"/><rect x="375.00" y="630.38" width="2.8" height="22.72" fill="#5f9f35"/><rect x="375.00" y="628.18" width="2.8" height="2.20" fill="#2f67c4"/><rect x="375.00" y="627.18" width="2.8" height="1.00" fill="#f5c040"/><rect x="375.00" y="620.22" width="2.8" height="6.96" fill="#959595"/><rect x="375.00" y="597.50" width="2.8" height="22.72" fill="#ef7222"/><rect x="375.00" y="390.70" width="2.8" height="206.80" fill="#3f83c9"/><rect x="380.06" y="678.20" width="2.8" height="4.20" fill="#464646"/><rect x="380.06" y="668.04" width="2.8" height="10.16" fill="#c24f0c"/><rect x="380.06" y="650.34" width="2.8" height="17.69" fill="#5f9f35"/><rect x="380.06" y="648.14" width="2.8" height="2.20" fill="#2f67c4"/><rect x="380.06" y="647.14" width="2.8" height="1.00" fill="#f5c040"/><rect x="380.06" y="641.38" width="2.8" height="5.77" fill="#959595"/><rect x="380.06" y="622.25" width="2.8" height="19.13" fill="#ef7222"/><rect x="380.06" y="472.30" width="2.8" height="149.95" fill="#3f83c9"/><rect x="385.13" y="676.77" width="2.8" height="5.63" fill="#464646"/><rect x="385.13" y="659.91" width="2.8" height="16.86" fill="#c24f0c"/><rect x="385.13" y="639.58" width="2.8" height="20.33" fill="#5f9f35"/><rect x="385.13" y="637.38" width="2.8" height="2.20" fill="#2f67c4"/><rect x="385.13" y="636.38" width="2.8" height="1.00" fill="#f5c040"/><rect x="385.13" y="630.14" width="2.8" height="6.25" fill="#959595"/><rect x="385.13" y="608.26" width="2.8" height="21.88" fill="#ef7222"/><rect x="385.13" y="414.90" width="2.8" height="193.36" fill="#3f83c9"/><rect x="390.19" y="676.77" width="2.8" height="5.63" fill="#464646"/><rect x="390.19" y="660.27" width="2.8" height="16.50" fill="#c24f0c"/><rect x="390.19" y="643.17" width="2.8" height="17.10" fill="#5f9f35"/><rect x="390.19" y="640.97" width="2.8" height="2.20" fill="#2f67c4"/><rect x="390.19" y="639.97" width="2.8" height="1.00" fill="#f5c040"/><rect x="390.19" y="633.01" width="2.8" height="6.96" fill="#959595"/><rect x="390.19" y="608.86" width="2.8" height="24.15" fill="#ef7222"/><rect x="390.19" y="411.50" width="2.8" height="197.36" fill="#3f83c9"/><rect x="395.26" y="675.81" width="2.8" height="6.59" fill="#464646"/><rect x="395.26" y="652.26" width="2.8" height="23.55" fill="#c24f0c"/><rect x="395.26" y="627.99" width="2.8" height="24.27" fill="#5f9f35"/><rect x="395.26" y="625.79" width="2.8" height="2.20" fill="#2f67c4"/><rect x="395.26" y="624.79" width="2.8" height="1.00" fill="#f5c040"/><rect x="395.26" y="617.47" width="2.8" height="7.32" fill="#959595"/><rect x="395.26" y="590.33" width="2.8" height="27.14" fill="#ef7222"/><rect x="395.26" y="361.60" width="2.8" height="228.73" fill="#3f83c9"/><rect x="400.32" y="675.81" width="2.8" height="6.59" fill="#464646"/><rect x="400.32" y="644.13" width="2.8" height="31.68" fill="#c24f0c"/><rect x="400.32" y="627.75" width="2.8" height="16.38" fill="#5f9f35"/><rect x="400.32" y="625.55" width="2.8" height="2.20" fill="#2f67c4"/><rect x="400.32" y="624.55" width="2.8" height="1.00" fill="#f5c040"/><rect x="400.32" y="617.23" width="2.8" height="7.32" fill="#959595"/><rect x="400.32" y="593.08" width="2.8" height="24.15" fill="#ef7222"/><rect x="400.32" y="345.80" width="2.8" height="247.28" fill="#3f83c9"/><rect x="405.38" y="677.60" width="2.8" height="4.80" fill="#464646"/><rect x="405.38" y="646.52" width="2.8" height="31.09" fill="#c24f0c"/><rect x="405.38" y="636.00" width="2.8" height="10.52" fill="#5f9f35"/><rect x="405.38" y="633.80" width="2.8" height="2.20" fill="#2f67c4"/><rect x="405.38" y="632.80" width="2.8" height="1.00" fill="#f5c040"/><rect x="405.38" y="626.79" width="2.8" height="6.01" fill="#959595"/><rect x="405.38" y="603.48" width="2.8" height="23.31" fill="#ef7222"/><rect x="405.38" y="388.10" width="2.8" height="215.38" fill="#3f83c9"/><rect x="410.45" y="678.20" width="2.8" height="4.20" fill="#464646"/><rect x="410.45" y="655.49" width="2.8" height="22.72" fill="#c24f0c"/><rect x="410.45" y="633.37" width="2.8" height="22.12" fill="#5f9f35"/><rect x="410.45" y="631.17" width="2.8" height="2.20" fill="#2f67c4"/><rect x="410.45" y="630.17" width="2.8" height="1.00" fill="#f5c040"/><rect x="410.45" y="623.80" width="2.8" height="6.36" fill="#959595"/><rect x="410.45" y="601.32" width="2.8" height="22.48" fill="#ef7222"/><rect x="410.45" y="415.60" width="2.8" height="185.72" fill="#3f83c9"/><rect x="415.51" y="677.60" width="2.8" height="4.80" fill="#464646"/><rect x="415.51" y="664.45" width="2.8" height="13.15" fill="#c24f0c"/><rect x="415.51" y="645.08" width="2.8" height="19.37" fill="#5f9f35"/><rect x="415.51" y="642.88" width="2.8" height="2.20" fill="#2f67c4"/><rect x="415.51" y="641.88" width="2.8" height="1.00" fill="#f5c040"/><rect x="415.51" y="636.36" width="2.8" height="5.53" fill="#959595"/><rect x="415.51" y="618.42" width="2.8" height="17.93" fill="#ef7222"/><rect x="415.51" y="468.20" width="2.8" height="150.22" fill="#3f83c9"/><rect x="420.58" y="677.60" width="2.8" height="4.80" fill="#464646"/><rect x="420.58" y="660.87" width="2.8" height="16.74" fill="#c24f0c"/><rect x="420.58" y="638.15" width="2.8" height="22.72" fill="#5f9f35"/><rect x="420.58" y="635.95" width="2.8" height="2.20" fill="#2f67c4"/><rect x="420.58" y="634.95" width="2.8" height="1.00" fill="#f5c040"/><rect x="420.58" y="628.58" width="2.8" height="6.36" fill="#959595"/><rect x="420.58" y="608.26" width="2.8" height="20.33" fill="#ef7222"/><rect x="420.58" y="436.90" width="2.8" height="171.36" fill="#3f83c9"/><rect x="425.64" y="676.41" width="2.8" height="5.99" fill="#464646"/><rect x="425.64" y="658.47" width="2.8" height="17.93" fill="#c24f0c"/><rect x="425.64" y="643.17" width="2.8" height="15.30" fill="#5f9f35"/><rect x="425.64" y="640.97" width="2.8" height="2.20" fill="#2f67c4"/><rect x="425.64" y="639.97" width="2.8" height="1.00" fill="#f5c040"/><rect x="425.64" y="632.77" width="2.8" height="7.20" fill="#959595"/><rect x="425.64" y="608.26" width="2.8" height="24.51" fill="#ef7222"/><rect x="425.64" y="407.50" width="2.8" height="200.76" fill="#3f83c9"/><rect x="430.70" y="675.21" width="2.8" height="7.19" fill="#464646"/><rect x="430.70" y="652.14" width="2.8" height="23.08" fill="#c24f0c"/><rect x="430.70" y="625.60" width="2.8" height="26.54" fill="#5f9f35"/><rect x="430.70" y="623.40" width="2.8" height="2.20" fill="#2f67c4"/><rect x="430.70" y="622.40" width="2.8" height="1.00" fill="#f5c040"/><rect x="430.70" y="615.19" width="2.8" height="7.20" fill="#959595"/><rect x="430.70" y="587.58" width="2.8" height="27.62" fill="#ef7222"/><rect x="430.70" y="357.10" width="2.8" height="230.48" fill="#3f83c9"/><rect x="435.77" y="675.21" width="2.8" height="7.19" fill="#464646"/><rect x="435.77" y="648.31" width="2.8" height="26.90" fill="#c24f0c"/><rect x="435.77" y="633.96" width="2.8" height="14.35" fill="#5f9f35"/><rect x="435.77" y="631.76" width="2.8" height="2.20" fill="#2f67c4"/><rect x="435.77" y="630.76" width="2.8" height="1.00" fill="#f5c040"/><rect x="435.77" y="623.80" width="2.8" height="6.96" fill="#959595"/><rect x="435.77" y="598.69" width="2.8" height="25.11" fill="#ef7222"/><rect x="435.77" y="384.00" width="2.8" height="214.69" fill="#3f83c9"/><rect x="440.83" y="675.21" width="2.8" height="7.19" fill="#464646"/><rect x="440.83" y="647.71" width="2.8" height="27.50" fill="#c24f0c"/><rect x="440.83" y="636.95" width="2.8" height="10.76" fill="#5f9f35"/><rect x="440.83" y="634.75" width="2.8" height="2.20" fill="#2f67c4"/><rect x="440.83" y="633.75" width="2.8" height="1.00" fill="#f5c040"/><rect x="440.83" y="627.15" width="2.8" height="6.60" fill="#959595"/><rect x="440.83" y="601.32" width="2.8" height="25.82" fill="#ef7222"/><rect x="440.83" y="381.30" width="2.8" height="220.02" fill="#3f83c9"/><rect x="445.90" y="675.21" width="2.8" height="7.19" fill="#464646"/><rect x="445.90" y="653.09" width="2.8" height="22.12" fill="#c24f0c"/><rect x="445.90" y="635.16" width="2.8" height="17.93" fill="#5f9f35"/><rect x="445.90" y="632.96" width="2.8" height="2.20" fill="#2f67c4"/><rect x="445.90" y="631.96" width="2.8" height="1.00" fill="#f5c040"/><rect x="445.90" y="625.60" width="2.8" height="6.36" fill="#959595"/><rect x="445.90" y="600.49" width="2.8" height="25.11" fill="#ef7222"/><rect x="445.90" y="599.41" width="2.8" height="1.08" fill="#1f3a6e"/><rect x="445.90" y="405.90" width="2.8" height="192.44" fill="#3f83c9"/><rect x="450.96" y="676.41" width="2.8" height="5.99" fill="#464646"/><rect x="450.96" y="658.71" width="2.8" height="17.69" fill="#c24f0c"/><rect x="450.96" y="638.75" width="2.8" height="19.97" fill="#5f9f35"/><rect x="450.96" y="636.55" width="2.8" height="2.20" fill="#2f67c4"/><rect x="450.96" y="635.55" width="2.8" height="1.00" fill="#f5c040"/><rect x="450.96" y="628.94" width="2.8" height="6.60" fill="#959595"/><rect x="450.96" y="605.63" width="2.8" height="23.31" fill="#ef7222"/><rect x="450.96" y="604.55" width="2.8" height="1.08" fill="#1f3a6e"/><rect x="450.96" y="425.80" width="2.8" height="177.68" fill="#3f83c9"/><rect x="456.02" y="675.81" width="2.8" height="6.59" fill="#464646"/><rect x="456.02" y="656.68" width="2.8" height="19.13" fill="#c24f0c"/><rect x="456.02" y="636.95" width="2.8" height="19.73" fill="#5f9f35"/><rect x="456.02" y="634.75" width="2.8" height="2.20" fill="#2f67c4"/><rect x="456.02" y="633.75" width="2.8" height="1.00" fill="#f5c040"/><rect x="456.02" y="626.79" width="2.8" height="6.96" fill="#959595"/><rect x="456.02" y="604.31" width="2.8" height="22.48" fill="#ef7222"/><rect x="456.02" y="603.18" width="2.8" height="1.14" fill="#1f3a6e"/><rect x="456.02" y="415.80" width="2.8" height="186.24" fill="#3f83c9"/><rect x="461.09" y="675.81" width="2.8" height="6.59" fill="#464646"/><rect x="461.09" y="658.47" width="2.8" height="17.34" fill="#c24f0c"/><rect x="461.09" y="641.14" width="2.8" height="17.34" fill="#5f9f35"/><rect x="461.09" y="638.94" width="2.8" height="2.20" fill="#2f67c4"/><rect x="461.09" y="637.94" width="2.8" height="1.00" fill="#f5c040"/><rect x="461.09" y="630.98" width="2.8" height="6.96" fill="#959595"/><rect x="461.09" y="607.66" width="2.8" height="23.31" fill="#ef7222"/><rect x="461.09" y="606.47" width="2.8" height="1.20" fill="#1f3a6e"/><rect x="461.09" y="416.30" width="2.8" height="188.97" fill="#3f83c9"/><rect x="466.15" y="674.62" width="2.8" height="7.78" fill="#464646"/><rect x="466.15" y="649.51" width="2.8" height="25.11" fill="#c24f0c"/><rect x="466.15" y="629.18" width="2.8" height="20.33" fill="#5f9f35"/><rect x="466.15" y="626.98" width="2.8" height="2.20" fill="#2f67c4"/><rect x="466.15" y="625.98" width="2.8" height="1.00" fill="#f5c040"/><rect x="466.15" y="618.06" width="2.8" height="7.92" fill="#959595"/><rect x="466.15" y="592.72" width="2.8" height="25.35" fill="#ef7222"/><rect x="466.15" y="591.52" width="2.8" height="1.20" fill="#1f3a6e"/><rect x="466.15" y="365.20" width="2.8" height="225.13" fill="#3f83c9"/><rect x="471.22" y="672.82" width="2.8" height="9.58" fill="#464646"/><rect x="471.22" y="638.15" width="2.8" height="34.67" fill="#c24f0c"/><rect x="471.22" y="623.56" width="2.8" height="14.59" fill="#5f9f35"/><rect x="471.22" y="621.36" width="2.8" height="2.20" fill="#2f67c4"/><rect x="471.22" y="620.36" width="2.8" height="1.00" fill="#f5c040"/><rect x="471.22" y="612.44" width="2.8" height="7.92" fill="#959595"/><rect x="471.22" y="587.34" width="2.8" height="25.11" fill="#ef7222"/><rect x="471.22" y="585.54" width="2.8" height="1.79" fill="#1f3a6e"/><rect x="471.22" y="335.80" width="2.8" height="247.95" fill="#3f83c9"/><rect x="476.28" y="676.41" width="2.8" height="5.99" fill="#464646"/><rect x="476.28" y="645.32" width="2.8" height="31.09" fill="#c24f0c"/><rect x="476.28" y="635.16" width="2.8" height="10.16" fill="#5f9f35"/><rect x="476.28" y="632.96" width="2.8" height="2.20" fill="#2f67c4"/><rect x="476.28" y="631.96" width="2.8" height="1.00" fill="#f5c040"/><rect x="476.28" y="625.24" width="2.8" height="6.72" fill="#959595"/><rect x="476.28" y="602.04" width="2.8" height="23.19" fill="#ef7222"/><rect x="476.28" y="600.67" width="2.8" height="1.37" fill="#1f3a6e"/><rect x="476.28" y="390.70" width="2.8" height="208.59" fill="#3f83c9"/><rect x="481.34" y="675.81" width="2.8" height="6.59" fill="#464646"/><rect x="481.34" y="655.49" width="2.8" height="20.33" fill="#c24f0c"/><rect x="481.34" y="639.94" width="2.8" height="15.54" fill="#5f9f35"/><rect x="481.34" y="637.74" width="2.8" height="2.20" fill="#2f67c4"/><rect x="481.34" y="636.74" width="2.8" height="1.00" fill="#f5c040"/><rect x="481.34" y="630.02" width="2.8" height="6.72" fill="#959595"/><rect x="481.34" y="610.05" width="2.8" height="19.97" fill="#ef7222"/><rect x="481.34" y="608.86" width="2.8" height="1.20" fill="#1f3a6e"/><rect x="481.34" y="434.60" width="2.8" height="173.06" fill="#3f83c9"/><rect x="486.41" y="676.41" width="2.8" height="5.99" fill="#464646"/><rect x="486.41" y="661.82" width="2.8" height="14.59" fill="#c24f0c"/><rect x="486.41" y="641.50" width="2.8" height="20.33" fill="#5f9f35"/><rect x="486.41" y="639.30" width="2.8" height="2.20" fill="#2f67c4"/><rect x="486.41" y="638.30" width="2.8" height="1.00" fill="#f5c040"/><rect x="486.41" y="631.57" width="2.8" height="6.72" fill="#959595"/><rect x="486.41" y="610.05" width="2.8" height="21.52" fill="#ef7222"/><rect x="486.41" y="609.04" width="2.8" height="1.02" fill="#1f3a6e"/><rect x="486.41" y="440.00" width="2.8" height="168.02" fill="#3f83c9"/><rect x="491.47" y="675.81" width="2.8" height="6.59" fill="#464646"/><rect x="491.47" y="656.68" width="2.8" height="19.13" fill="#c24f0c"/><rect x="491.47" y="635.16" width="2.8" height="21.52" fill="#5f9f35"/><rect x="491.47" y="632.96" width="2.8" height="2.20" fill="#2f67c4"/><rect x="491.47" y="631.96" width="2.8" height="1.00" fill="#f5c040"/><rect x="491.47" y="625.24" width="2.8" height="6.72" fill="#959595"/><rect x="491.47" y="604.43" width="2.8" height="20.80" fill="#ef7222"/><rect x="491.47" y="603.24" width="2.8" height="1.20" fill="#1f3a6e"/><rect x="491.47" y="419.50" width="2.8" height="182.54" fill="#3f83c9"/><rect x="496.54" y="675.81" width="2.8" height="6.59" fill="#464646"/><rect x="496.54" y="656.08" width="2.8" height="19.73" fill="#c24f0c"/><rect x="496.54" y="639.11" width="2.8" height="16.98" fill="#5f9f35"/><rect x="496.54" y="636.91" width="2.8" height="2.20" fill="#2f67c4"/><rect x="496.54" y="635.91" width="2.8" height="1.00" fill="#f5c040"/><rect x="496.54" y="628.82" width="2.8" height="7.08" fill="#959595"/><rect x="496.54" y="608.26" width="2.8" height="20.56" fill="#ef7222"/><rect x="496.54" y="607.06" width="2.8" height="1.20" fill="#1f3a6e"/><rect x="496.54" y="424.50" width="2.8" height="181.37" fill="#3f83c9"/><rect x="501.60" y="675.21" width="2.8" height="7.19" fill="#464646"/><rect x="501.60" y="649.15" width="2.8" height="26.06" fill="#c24f0c"/><rect x="501.60" y="632.77" width="2.8" height="16.38" fill="#5f9f35"/><rect x="501.60" y="630.57" width="2.8" height="2.20" fill="#2f67c4"/><rect x="501.60" y="629.57" width="2.8" height="1.00" fill="#f5c040"/><rect x="501.60" y="621.65" width="2.8" height="7.92" fill="#959595"/><rect x="501.60" y="596.90" width="2.8" height="24.75" fill="#ef7222"/><rect x="501.60" y="595.41" width="2.8" height="1.49" fill="#1f3a6e"/><rect x="501.60" y="378.60" width="2.8" height="215.31" fill="#3f83c9"/><rect x="506.66" y="675.21" width="2.8" height="7.19" fill="#464646"/><rect x="506.66" y="637.19" width="2.8" height="38.02" fill="#c24f0c"/><rect x="506.66" y="618.42" width="2.8" height="18.77" fill="#5f9f35"/><rect x="506.66" y="616.22" width="2.8" height="2.20" fill="#2f67c4"/><rect x="506.66" y="615.22" width="2.8" height="1.00" fill="#f5c040"/><rect x="506.66" y="606.47" width="2.8" height="8.76" fill="#959595"/><rect x="506.66" y="578.97" width="2.8" height="27.50" fill="#ef7222"/><rect x="506.66" y="577.17" width="2.8" height="1.79" fill="#1f3a6e"/><rect x="506.66" y="289.50" width="2.8" height="285.88" fill="#3f83c9"/><rect x="511.73" y="675.81" width="2.8" height="6.59" fill="#464646"/><rect x="511.73" y="644.73" width="2.8" height="31.09" fill="#c24f0c"/><rect x="511.73" y="633.96" width="2.8" height="10.76" fill="#5f9f35"/><rect x="511.73" y="631.76" width="2.8" height="2.20" fill="#2f67c4"/><rect x="511.73" y="630.76" width="2.8" height="1.00" fill="#f5c040"/><rect x="511.73" y="623.20" width="2.8" height="7.56" fill="#959595"/><rect x="511.73" y="599.89" width="2.8" height="23.31" fill="#ef7222"/><rect x="511.73" y="597.50" width="2.8" height="2.39" fill="#1f3a6e"/><rect x="511.73" y="389.40" width="2.8" height="205.71" fill="#3f83c9"/><rect x="516.79" y="675.81" width="2.8" height="6.59" fill="#464646"/><rect x="516.79" y="660.27" width="2.8" height="15.54" fill="#c24f0c"/><rect x="516.79" y="644.73" width="2.8" height="15.54" fill="#5f9f35"/><rect x="516.79" y="642.53" width="2.8" height="2.20" fill="#2f67c4"/><rect x="516.79" y="641.53" width="2.8" height="1.00" fill="#f5c040"/><rect x="516.79" y="635.16" width="2.8" height="6.36" fill="#959595"/><rect x="516.79" y="613.64" width="2.8" height="21.52" fill="#ef7222"/><rect x="516.79" y="611.55" width="2.8" height="2.09" fill="#1f3a6e"/><rect x="516.79" y="443.10" width="2.8" height="166.35" fill="#3f83c9"/><rect x="521.86" y="675.81" width="2.8" height="6.59" fill="#464646"/><rect x="521.86" y="662.06" width="2.8" height="13.75" fill="#c24f0c"/><rect x="521.86" y="648.91" width="2.8" height="13.15" fill="#5f9f35"/><rect x="521.86" y="646.71" width="2.8" height="2.20" fill="#2f67c4"/><rect x="521.86" y="645.71" width="2.8" height="1.00" fill="#f5c040"/><rect x="521.86" y="638.75" width="2.8" height="6.96" fill="#959595"/><rect x="521.86" y="620.81" width="2.8" height="17.93" fill="#ef7222"/><rect x="521.86" y="619.32" width="2.8" height="1.49" fill="#1f3a6e"/><rect x="521.86" y="472.00" width="2.8" height="145.82" fill="#3f83c9"/><rect x="526.92" y="675.81" width="2.8" height="6.59" fill="#464646"/><rect x="526.92" y="660.27" width="2.8" height="15.54" fill="#c24f0c"/><rect x="526.92" y="644.73" width="2.8" height="15.54" fill="#5f9f35"/><rect x="526.92" y="642.53" width="2.8" height="2.20" fill="#2f67c4"/><rect x="526.92" y="641.53" width="2.8" height="1.00" fill="#f5c040"/><rect x="526.92" y="635.16" width="2.8" height="6.36" fill="#959595"/><rect x="526.92" y="615.79" width="2.8" height="19.37" fill="#ef7222"/><rect x="526.92" y="614.12" width="2.8" height="1.67" fill="#1f3a6e"/><rect x="526.92" y="461.20" width="2.8" height="151.24" fill="#3f83c9"/><rect x="531.98" y="675.21" width="2.8" height="7.19" fill="#464646"/><rect x="531.98" y="659.43" width="2.8" height="15.78" fill="#c24f0c"/><rect x="531.98" y="644.13" width="2.8" height="15.30" fill="#5f9f35"/><rect x="531.98" y="641.93" width="2.8" height="2.20" fill="#2f67c4"/><rect x="531.98" y="640.93" width="2.8" height="1.00" fill="#f5c040"/><rect x="531.98" y="634.20" width="2.8" height="6.72" fill="#959595"/><rect x="531.98" y="611.85" width="2.8" height="22.36" fill="#ef7222"/><rect x="531.98" y="609.75" width="2.8" height="2.09" fill="#1f3a6e"/><rect x="531.98" y="440.10" width="2.8" height="167.56" fill="#3f83c9"/><rect x="537.05" y="675.21" width="2.8" height="7.19" fill="#464646"/><rect x="537.05" y="651.90" width="2.8" height="23.31" fill="#c24f0c"/><rect x="537.05" y="629.18" width="2.8" height="22.72" fill="#5f9f35"/><rect x="537.05" y="626.98" width="2.8" height="2.20" fill="#2f67c4"/><rect x="537.05" y="625.98" width="2.8" height="1.00" fill="#f5c040"/><rect x="537.05" y="618.42" width="2.8" height="7.56" fill="#959595"/><rect x="537.05" y="594.51" width="2.8" height="23.91" fill="#ef7222"/><rect x="537.05" y="592.42" width="2.8" height="2.09" fill="#1f3a6e"/><rect x="537.05" y="406.10" width="2.8" height="184.23" fill="#3f83c9"/><rect x="542.11" y="675.81" width="2.8" height="6.59" fill="#464646"/><rect x="542.11" y="643.89" width="2.8" height="31.92" fill="#c24f0c"/><rect x="542.11" y="633.37" width="2.8" height="10.52" fill="#5f9f35"/><rect x="542.11" y="631.17" width="2.8" height="2.20" fill="#2f67c4"/><rect x="542.11" y="630.17" width="2.8" height="1.00" fill="#f5c040"/><rect x="542.11" y="622.61" width="2.8" height="7.56" fill="#959595"/><rect x="542.11" y="598.10" width="2.8" height="24.51" fill="#ef7222"/><rect x="542.11" y="594.81" width="2.8" height="3.29" fill="#1f3a6e"/><rect x="542.11" y="390.30" width="2.8" height="201.22" fill="#3f83c9"/><rect x="547.18" y="676.41" width="2.8" height="5.99" fill="#464646"/><rect x="547.18" y="654.89" width="2.8" height="21.52" fill="#c24f0c"/><rect x="547.18" y="649.51" width="2.8" height="5.38" fill="#5f9f35"/><rect x="547.18" y="647.31" width="2.8" height="2.20" fill="#2f67c4"/><rect x="547.18" y="646.31" width="2.8" height="1.00" fill="#f5c040"/><rect x="547.18" y="638.15" width="2.8" height="8.16" fill="#959595"/><rect x="547.18" y="616.03" width="2.8" height="22.12" fill="#ef7222"/><rect x="547.18" y="613.64" width="2.8" height="2.39" fill="#1f3a6e"/><rect x="547.18" y="434.50" width="2.8" height="176.75" fill="#3f83c9"/><rect x="552.24" y="676.41" width="2.8" height="5.99" fill="#464646"/><rect x="552.24" y="662.66" width="2.8" height="13.75" fill="#c24f0c"/><rect x="552.24" y="648.91" width="2.8" height="13.75" fill="#5f9f35"/><rect x="552.24" y="646.71" width="2.8" height="2.20" fill="#2f67c4"/><rect x="552.24" y="645.71" width="2.8" height="1.00" fill="#f5c040"/><rect x="552.24" y="638.99" width="2.8" height="6.72" fill="#959595"/><rect x="552.24" y="619.62" width="2.8" height="19.37" fill="#ef7222"/><rect x="552.24" y="617.82" width="2.8" height="1.79" fill="#1f3a6e"/><rect x="552.24" y="467.50" width="2.8" height="148.53" fill="#3f83c9"/><rect x="557.30" y="676.41" width="2.8" height="5.99" fill="#464646"/><rect x="557.30" y="660.27" width="2.8" height="16.14" fill="#c24f0c"/><rect x="557.30" y="647.12" width="2.8" height="13.15" fill="#5f9f35"/><rect x="557.30" y="644.92" width="2.8" height="2.20" fill="#2f67c4"/><rect x="557.30" y="643.92" width="2.8" height="1.00" fill="#f5c040"/><rect x="557.30" y="637.19" width="2.8" height="6.72" fill="#959595"/><rect x="557.30" y="619.02" width="2.8" height="18.17" fill="#ef7222"/><rect x="557.30" y="617.23" width="2.8" height="1.79" fill="#1f3a6e"/><rect x="557.30" y="464.50" width="2.8" height="150.93" fill="#3f83c9"/><rect x="562.37" y="675.81" width="2.8" height="6.59" fill="#464646"/><rect x="562.37" y="658.47" width="2.8" height="17.34" fill="#c24f0c"/><rect x="562.37" y="644.13" width="2.8" height="14.35" fill="#5f9f35"/><rect x="562.37" y="641.93" width="2.8" height="2.20" fill="#2f67c4"/><rect x="562.37" y="640.93" width="2.8" height="1.00" fill="#f5c040"/><rect x="562.37" y="633.37" width="2.8" height="7.56" fill="#959595"/><rect x="562.37" y="616.03" width="2.8" height="17.34" fill="#ef7222"/><rect x="562.37" y="614.24" width="2.8" height="1.79" fill="#1f3a6e"/><rect x="562.37" y="457.00" width="2.8" height="155.44" fill="#3f83c9"/><rect x="567.43" y="676.41" width="2.8" height="5.99" fill="#464646"/><rect x="567.43" y="658.12" width="2.8" height="18.29" fill="#c24f0c"/><rect x="567.43" y="646.52" width="2.8" height="11.60" fill="#5f9f35"/><rect x="567.43" y="644.32" width="2.8" height="2.20" fill="#2f67c4"/><rect x="567.43" y="643.32" width="2.8" height="1.00" fill="#f5c040"/><rect x="567.43" y="636.36" width="2.8" height="6.96" fill="#959595"/><rect x="567.43" y="617.82" width="2.8" height="18.53" fill="#ef7222"/><rect x="567.43" y="615.73" width="2.8" height="2.09" fill="#1f3a6e"/><rect x="567.43" y="452.00" width="2.8" height="161.64" fill="#3f83c9"/><rect x="572.50" y="674.97" width="2.8" height="7.43" fill="#464646"/><rect x="572.50" y="651.90" width="2.8" height="23.08" fill="#c24f0c"/><rect x="572.50" y="630.38" width="2.8" height="21.52" fill="#5f9f35"/><rect x="572.50" y="628.18" width="2.8" height="2.20" fill="#2f67c4"/><rect x="572.50" y="627.18" width="2.8" height="1.00" fill="#f5c040"/><rect x="572.50" y="618.78" width="2.8" height="8.40" fill="#959595"/><rect x="572.50" y="596.30" width="2.8" height="22.48" fill="#ef7222"/><rect x="572.50" y="594.21" width="2.8" height="2.09" fill="#1f3a6e"/><rect x="572.50" y="404.10" width="2.8" height="188.02" fill="#3f83c9"/><rect x="577.56" y="674.62" width="2.8" height="7.78" fill="#464646"/><rect x="577.56" y="640.18" width="2.8" height="34.43" fill="#c24f0c"/><rect x="577.56" y="630.38" width="2.8" height="9.80" fill="#5f9f35"/><rect x="577.56" y="628.18" width="2.8" height="2.20" fill="#2f67c4"/><rect x="577.56" y="627.18" width="2.8" height="1.00" fill="#f5c040"/><rect x="577.56" y="617.82" width="2.8" height="9.35" fill="#959595"/><rect x="577.56" y="588.53" width="2.8" height="29.29" fill="#ef7222"/><rect x="577.56" y="583.75" width="2.8" height="4.78" fill="#1f3a6e"/><rect x="577.56" y="314.10" width="2.8" height="264.87" fill="#3f83c9"/><rect x="582.62" y="674.97" width="2.8" height="7.43" fill="#464646"/><rect x="582.62" y="641.74" width="2.8" height="33.24" fill="#c24f0c"/><rect x="582.62" y="636.95" width="2.8" height="4.78" fill="#5f9f35"/><rect x="582.62" y="634.75" width="2.8" height="2.20" fill="#2f67c4"/><rect x="582.62" y="633.75" width="2.8" height="1.00" fill="#f5c040"/><rect x="582.62" y="624.40" width="2.8" height="9.35" fill="#959595"/><rect x="582.62" y="594.51" width="2.8" height="29.89" fill="#ef7222"/><rect x="582.62" y="589.73" width="2.8" height="4.78" fill="#1f3a6e"/><rect x="582.62" y="333.80" width="2.8" height="251.15" fill="#3f83c9"/><rect x="587.69" y="675.81" width="2.8" height="6.59" fill="#464646"/><rect x="587.69" y="660.87" width="2.8" height="14.95" fill="#c24f0c"/><rect x="587.69" y="651.06" width="2.8" height="9.80" fill="#5f9f35"/><rect x="587.69" y="648.86" width="2.8" height="2.20" fill="#2f67c4"/><rect x="587.69" y="647.86" width="2.8" height="1.00" fill="#f5c040"/><rect x="587.69" y="640.54" width="2.8" height="7.32" fill="#959595"/><rect x="587.69" y="619.62" width="2.8" height="20.92" fill="#ef7222"/><rect x="587.69" y="617.53" width="2.8" height="2.09" fill="#1f3a6e"/><rect x="587.69" y="466.00" width="2.8" height="149.43" fill="#3f83c9"/><rect x="592.75" y="675.81" width="2.8" height="6.59" fill="#464646"/><rect x="592.75" y="658.12" width="2.8" height="17.69" fill="#c24f0c"/><rect x="592.75" y="648.31" width="2.8" height="9.80" fill="#5f9f35"/><rect x="592.75" y="646.11" width="2.8" height="2.20" fill="#2f67c4"/><rect x="592.75" y="645.11" width="2.8" height="1.00" fill="#f5c040"/><rect x="592.75" y="637.91" width="2.8" height="7.20" fill="#959595"/><rect x="592.75" y="617.58" width="2.8" height="20.33" fill="#ef7222"/><rect x="592.75" y="615.61" width="2.8" height="1.97" fill="#1f3a6e"/><rect x="592.75" y="450.60" width="2.8" height="163.04" fill="#3f83c9"/><rect x="597.82" y="675.81" width="2.8" height="6.59" fill="#464646"/><rect x="597.82" y="655.13" width="2.8" height="20.68" fill="#c24f0c"/><rect x="597.82" y="643.17" width="2.8" height="11.96" fill="#5f9f35"/><rect x="597.82" y="640.97" width="2.8" height="2.20" fill="#2f67c4"/><rect x="597.82" y="639.97" width="2.8" height="1.00" fill="#f5c040"/><rect x="597.82" y="632.77" width="2.8" height="7.20" fill="#959595"/><rect x="597.82" y="612.44" width="2.8" height="20.33" fill="#ef7222"/><rect x="597.82" y="610.35" width="2.8" height="2.09" fill="#1f3a6e"/><rect x="597.82" y="439.00" width="2.8" height="169.26" fill="#3f83c9"/><rect x="602.88" y="675.81" width="2.8" height="6.59" fill="#464646"/><rect x="602.88" y="658.71" width="2.8" height="17.10" fill="#c24f0c"/><rect x="602.88" y="648.91" width="2.8" height="9.80" fill="#5f9f35"/><rect x="602.88" y="646.71" width="2.8" height="2.20" fill="#2f67c4"/><rect x="602.88" y="645.71" width="2.8" height="1.00" fill="#f5c040"/><rect x="602.88" y="638.51" width="2.8" height="7.20" fill="#959595"/><rect x="602.88" y="619.62" width="2.8" height="18.89" fill="#ef7222"/><rect x="602.88" y="617.82" width="2.8" height="1.79" fill="#1f3a6e"/><rect x="602.88" y="466.30" width="2.8" height="149.73" fill="#3f83c9"/><rect x="607.94" y="675.21" width="2.8" height="7.19" fill="#464646"/><rect x="607.94" y="654.05" width="2.8" height="21.16" fill="#c24f0c"/><rect x="607.94" y="646.52" width="2.8" height="7.53" fill="#5f9f35"/><rect x="607.94" y="644.32" width="2.8" height="2.20" fill="#2f67c4"/><rect x="607.94" y="643.32" width="2.8" height="1.00" fill="#f5c040"/><rect x="607.94" y="635.16" width="2.8" height="8.16" fill="#959595"/><rect x="607.94" y="613.64" width="2.8" height="21.52" fill="#ef7222"/><rect x="607.94" y="611.55" width="2.8" height="2.09" fill="#1f3a6e"/><rect x="607.94" y="430.00" width="2.8" height="179.45" fill="#3f83c9"/><rect x="613.01" y="675.21" width="2.8" height="7.19" fill="#464646"/><rect x="613.01" y="649.15" width="2.8" height="26.06" fill="#c24f0c"/><rect x="613.01" y="643.53" width="2.8" height="5.62" fill="#5f9f35"/><rect x="613.01" y="641.33" width="2.8" height="2.20" fill="#2f67c4"/><rect x="613.01" y="640.33" width="2.8" height="1.00" fill="#f5c040"/><rect x="613.01" y="632.17" width="2.8" height="8.16" fill="#959595"/><rect x="613.01" y="606.47" width="2.8" height="25.71" fill="#ef7222"/><rect x="613.01" y="602.28" width="2.8" height="4.18" fill="#1f3a6e"/><rect x="613.01" y="379.50" width="2.8" height="218.60" fill="#3f83c9"/><rect x="618.07" y="675.21" width="2.8" height="7.19" fill="#464646"/><rect x="618.07" y="641.50" width="2.8" height="33.72" fill="#c24f0c"/><rect x="618.07" y="635.76" width="2.8" height="5.74" fill="#5f9f35"/><rect x="618.07" y="633.56" width="2.8" height="2.20" fill="#2f67c4"/><rect x="618.07" y="632.56" width="2.8" height="1.00" fill="#f5c040"/><rect x="618.07" y="624.40" width="2.8" height="8.16" fill="#959595"/><rect x="618.07" y="595.71" width="2.8" height="28.69" fill="#ef7222"/><rect x="618.07" y="590.92" width="2.8" height="4.78" fill="#1f3a6e"/><rect x="618.07" y="348.10" width="2.8" height="238.04" fill="#3f83c9"/><rect x="623.14" y="675.81" width="2.8" height="6.59" fill="#464646"/><rect x="623.14" y="647.71" width="2.8" height="28.10" fill="#c24f0c"/><rect x="623.14" y="644.13" width="2.8" height="3.59" fill="#5f9f35"/><rect x="623.14" y="641.93" width="2.8" height="2.20" fill="#2f67c4"/><rect x="623.14" y="640.93" width="2.8" height="1.00" fill="#f5c040"/><rect x="623.14" y="634.20" width="2.8" height="6.72" fill="#959595"/><rect x="623.14" y="607.66" width="2.8" height="26.54" fill="#ef7222"/><rect x="623.14" y="603.48" width="2.8" height="4.18" fill="#1f3a6e"/><rect x="623.14" y="393.50" width="2.8" height="205.79" fill="#3f83c9"/><rect x="628.20" y="675.81" width="2.8" height="6.59" fill="#464646"/><rect x="628.20" y="656.32" width="2.8" height="19.49" fill="#c24f0c"/><rect x="628.20" y="652.50" width="2.8" height="3.83" fill="#5f9f35"/><rect x="628.20" y="650.30" width="2.8" height="2.20" fill="#2f67c4"/><rect x="628.20" y="649.30" width="2.8" height="1.00" fill="#f5c040"/><rect x="628.20" y="642.33" width="2.8" height="6.96" fill="#959595"/><rect x="628.20" y="623.80" width="2.8" height="18.53" fill="#ef7222"/><rect x="628.20" y="621.41" width="2.8" height="2.39" fill="#1f3a6e"/><rect x="628.20" y="452.40" width="2.8" height="166.62" fill="#3f83c9"/><rect x="633.26" y="676.58" width="2.8" height="5.82" fill="#464646"/><rect x="633.26" y="646.79" width="2.8" height="29.79" fill="#c24f0c"/><rect x="633.26" y="635.78" width="2.8" height="11.01" fill="#5f9f35"/><rect x="633.26" y="633.58" width="2.8" height="2.20" fill="#2f67c4"/><rect x="633.26" y="632.58" width="2.8" height="1.00" fill="#f5c040"/><rect x="633.26" y="624.12" width="2.8" height="8.46" fill="#959595"/><rect x="633.26" y="601.19" width="2.8" height="22.93" fill="#ef7222"/><rect x="633.26" y="597.11" width="2.8" height="4.08" fill="#1f3a6e"/><rect x="633.26" y="367.90" width="2.8" height="225.13" fill="#3f83c9"/><rect x="638.33" y="677.62" width="2.8" height="4.78" fill="#464646"/><rect x="638.33" y="657.80" width="2.8" height="19.82" fill="#c24f0c"/><rect x="638.33" y="653.91" width="2.8" height="3.89" fill="#5f9f35"/><rect x="638.33" y="651.71" width="2.8" height="2.20" fill="#2f67c4"/><rect x="638.33" y="650.71" width="2.8" height="1.00" fill="#f5c040"/><rect x="638.33" y="643.94" width="2.8" height="6.77" fill="#959595"/><rect x="638.33" y="625.80" width="2.8" height="18.13" fill="#ef7222"/><rect x="638.33" y="622.37" width="2.8" height="3.43" fill="#1f3a6e"/><rect x="638.33" y="445.90" width="2.8" height="173.04" fill="#3f83c9"/><rect x="643.39" y="677.62" width="2.8" height="4.78" fill="#464646"/><rect x="643.39" y="654.56" width="2.8" height="23.06" fill="#c24f0c"/><rect x="643.39" y="648.73" width="2.8" height="5.83" fill="#5f9f35"/><rect x="643.39" y="646.53" width="2.8" height="2.20" fill="#2f67c4"/><rect x="643.39" y="645.53" width="2.8" height="1.00" fill="#f5c040"/><rect x="643.39" y="640.96" width="2.8" height="4.57" fill="#959595"/><rect x="643.39" y="620.62" width="2.8" height="20.34" fill="#ef7222"/><rect x="643.39" y="617.51" width="2.8" height="3.11" fill="#1f3a6e"/><rect x="643.39" y="427.60" width="2.8" height="186.80" fill="#3f83c9"/><rect x="648.46" y="678.52" width="2.8" height="3.88" fill="#464646"/><rect x="648.46" y="654.56" width="2.8" height="23.96" fill="#c24f0c"/><rect x="648.46" y="646.14" width="2.8" height="8.42" fill="#5f9f35"/><rect x="648.46" y="643.94" width="2.8" height="2.20" fill="#2f67c4"/><rect x="648.46" y="642.94" width="2.8" height="1.00" fill="#f5c040"/><rect x="648.46" y="635.13" width="2.8" height="7.81" fill="#959595"/><rect x="648.46" y="609.61" width="2.8" height="25.52" fill="#ef7222"/><rect x="648.46" y="604.61" width="2.8" height="5.00" fill="#1f3a6e"/><rect x="648.46" y="402.50" width="2.8" height="197.01" fill="#3f83c9"/><rect x="653.52" y="678.52" width="2.8" height="3.88" fill="#464646"/><rect x="653.52" y="654.56" width="2.8" height="23.96" fill="#c24f0c"/><rect x="653.52" y="649.38" width="2.8" height="5.18" fill="#5f9f35"/><rect x="653.52" y="647.18" width="2.8" height="2.20" fill="#2f67c4"/><rect x="653.52" y="646.18" width="2.8" height="1.00" fill="#f5c040"/><rect x="653.52" y="639.66" width="2.8" height="6.52" fill="#959595"/><rect x="653.52" y="616.99" width="2.8" height="22.67" fill="#ef7222"/><rect x="653.52" y="612.46" width="2.8" height="4.53" fill="#1f3a6e"/><rect x="653.52" y="414.90" width="2.8" height="193.03" fill="#3f83c9"/><rect x="658.58" y="677.62" width="2.8" height="4.78" fill="#464646"/><rect x="658.58" y="653.91" width="2.8" height="23.70" fill="#c24f0c"/><rect x="658.58" y="644.84" width="2.8" height="9.07" fill="#5f9f35"/><rect x="658.58" y="642.64" width="2.8" height="2.20" fill="#2f67c4"/><rect x="658.58" y="641.64" width="2.8" height="1.00" fill="#f5c040"/><rect x="658.58" y="634.09" width="2.8" height="7.55" fill="#959595"/><rect x="658.58" y="609.61" width="2.8" height="24.48" fill="#ef7222"/><rect x="658.58" y="605.53" width="2.8" height="4.08" fill="#1f3a6e"/><rect x="658.58" y="414.50" width="2.8" height="186.95" fill="#3f83c9"/><rect x="663.65" y="677.62" width="2.8" height="4.78" fill="#464646"/><rect x="663.65" y="655.21" width="2.8" height="22.41" fill="#c24f0c"/><rect x="663.65" y="649.38" width="2.8" height="5.83" fill="#5f9f35"/><rect x="663.65" y="647.18" width="2.8" height="2.20" fill="#2f67c4"/><rect x="663.65" y="646.18" width="2.8" height="1.00" fill="#f5c040"/><rect x="663.65" y="639.27" width="2.8" height="6.90" fill="#959595"/><rect x="663.65" y="618.03" width="2.8" height="21.24" fill="#ef7222"/><rect x="663.65" y="614.60" width="2.8" height="3.43" fill="#1f3a6e"/><rect x="663.65" y="431.50" width="2.8" height="179.67" fill="#3f83c9"/><rect x="668.71" y="677.23" width="2.8" height="5.17" fill="#464646"/><rect x="668.71" y="654.95" width="2.8" height="22.28" fill="#c24f0c"/><rect x="668.71" y="650.03" width="2.8" height="4.92" fill="#5f9f35"/><rect x="668.71" y="647.83" width="2.8" height="2.20" fill="#2f67c4"/><rect x="668.71" y="646.83" width="2.8" height="1.00" fill="#f5c040"/><rect x="668.71" y="639.27" width="2.8" height="7.55" fill="#959595"/><rect x="668.71" y="619.33" width="2.8" height="19.95" fill="#ef7222"/><rect x="668.71" y="615.89" width="2.8" height="3.43" fill="#1f3a6e"/><rect x="668.71" y="437.80" width="2.8" height="174.66" fill="#3f83c9"/><rect x="673.78" y="678.13" width="2.8" height="4.27" fill="#464646"/><rect x="673.78" y="657.15" width="2.8" height="20.98" fill="#c24f0c"/><rect x="673.78" y="650.67" width="2.8" height="6.48" fill="#5f9f35"/><rect x="673.78" y="648.47" width="2.8" height="2.20" fill="#2f67c4"/><rect x="673.78" y="647.47" width="2.8" height="1.00" fill="#f5c040"/><rect x="673.78" y="640.96" width="2.8" height="6.52" fill="#959595"/><rect x="673.78" y="621.53" width="2.8" height="19.43" fill="#ef7222"/><rect x="673.78" y="618.29" width="2.8" height="3.24" fill="#1f3a6e"/><rect x="673.78" y="442.30" width="2.8" height="172.75" fill="#3f83c9"/><rect x="678.84" y="678.13" width="2.8" height="4.27" fill="#464646"/><rect x="678.84" y="656.89" width="2.8" height="21.24" fill="#c24f0c"/><rect x="678.84" y="653.52" width="2.8" height="3.37" fill="#5f9f35"/><rect x="678.84" y="651.32" width="2.8" height="2.20" fill="#2f67c4"/><rect x="678.84" y="650.32" width="2.8" height="1.00" fill="#f5c040"/><rect x="678.84" y="643.55" width="2.8" height="6.77" fill="#959595"/><rect x="678.84" y="624.12" width="2.8" height="19.43" fill="#ef7222"/><rect x="678.84" y="620.56" width="2.8" height="3.56" fill="#1f3a6e"/><rect x="678.84" y="443.20" width="2.8" height="173.79" fill="#3f83c9"/><rect x="683.90" y="678.52" width="2.8" height="3.88" fill="#464646"/><rect x="683.90" y="656.50" width="2.8" height="22.02" fill="#c24f0c"/><rect x="683.90" y="650.67" width="2.8" height="5.83" fill="#5f9f35"/><rect x="683.90" y="648.47" width="2.8" height="2.20" fill="#2f67c4"/><rect x="683.90" y="647.47" width="2.8" height="1.00" fill="#f5c040"/><rect x="683.90" y="640.96" width="2.8" height="6.52" fill="#959595"/><rect x="683.90" y="618.94" width="2.8" height="22.02" fill="#ef7222"/><rect x="683.90" y="613.94" width="2.8" height="5.00" fill="#1f3a6e"/><rect x="683.90" y="417.70" width="2.8" height="190.23" fill="#3f83c9"/><rect x="688.97" y="678.52" width="2.8" height="3.88" fill="#464646"/><rect x="688.97" y="653.91" width="2.8" height="24.61" fill="#c24f0c"/><rect x="688.97" y="650.67" width="2.8" height="3.24" fill="#5f9f35"/><rect x="688.97" y="648.47" width="2.8" height="2.20" fill="#2f67c4"/><rect x="688.97" y="647.47" width="2.8" height="1.00" fill="#f5c040"/><rect x="688.97" y="641.61" width="2.8" height="5.87" fill="#959595"/><rect x="688.97" y="617.90" width="2.8" height="23.70" fill="#ef7222"/><rect x="688.97" y="612.90" width="2.8" height="5.00" fill="#1f3a6e"/><rect x="688.97" y="418.10" width="2.8" height="188.53" fill="#3f83c9"/><rect x="694.03" y="678.52" width="2.8" height="3.88" fill="#464646"/><rect x="694.03" y="656.50" width="2.8" height="22.02" fill="#c24f0c"/><rect x="694.03" y="652.23" width="2.8" height="4.27" fill="#5f9f35"/><rect x="694.03" y="650.03" width="2.8" height="2.20" fill="#2f67c4"/><rect x="694.03" y="649.03" width="2.8" height="1.00" fill="#f5c040"/><rect x="694.03" y="641.61" width="2.8" height="7.42" fill="#959595"/><rect x="694.03" y="621.53" width="2.8" height="20.08" fill="#ef7222"/><rect x="694.03" y="617.64" width="2.8" height="3.89" fill="#1f3a6e"/><rect x="694.03" y="448.60" width="2.8" height="165.16" fill="#3f83c9"/><rect x="699.10" y="677.88" width="2.8" height="4.52" fill="#464646"/><rect x="699.10" y="655.60" width="2.8" height="22.28" fill="#c24f0c"/><rect x="699.10" y="649.38" width="2.8" height="6.22" fill="#5f9f35"/><rect x="699.10" y="647.18" width="2.8" height="2.20" fill="#2f67c4"/><rect x="699.10" y="646.18" width="2.8" height="1.00" fill="#f5c040"/><rect x="699.10" y="639.27" width="2.8" height="6.90" fill="#959595"/><rect x="699.10" y="618.94" width="2.8" height="20.34" fill="#ef7222"/><rect x="699.10" y="615.05" width="2.8" height="3.89" fill="#1f3a6e"/><rect x="699.10" y="435.70" width="2.8" height="175.47" fill="#3f83c9"/><rect x="704.16" y="677.88" width="2.8" height="4.52" fill="#464646"/><rect x="704.16" y="653.91" width="2.8" height="23.96" fill="#c24f0c"/><rect x="704.16" y="650.03" width="2.8" height="3.89" fill="#5f9f35"/><rect x="704.16" y="647.83" width="2.8" height="2.20" fill="#2f67c4"/><rect x="704.16" y="646.83" width="2.8" height="1.00" fill="#f5c040"/><rect x="704.16" y="640.05" width="2.8" height="6.77" fill="#959595"/><rect x="704.16" y="619.59" width="2.8" height="20.47" fill="#ef7222"/><rect x="704.16" y="615.70" width="2.8" height="3.89" fill="#1f3a6e"/><rect x="704.16" y="427.60" width="2.8" height="184.21" fill="#3f83c9"/><rect x="709.22" y="677.88" width="2.8" height="4.52" fill="#464646"/><rect x="709.22" y="652.23" width="2.8" height="25.65" fill="#c24f0c"/><rect x="709.22" y="648.73" width="2.8" height="3.50" fill="#5f9f35"/><rect x="709.22" y="646.53" width="2.8" height="2.20" fill="#2f67c4"/><rect x="709.22" y="645.53" width="2.8" height="1.00" fill="#f5c040"/><rect x="709.22" y="638.37" width="2.8" height="7.16" fill="#959595"/><rect x="709.22" y="617.64" width="2.8" height="20.73" fill="#ef7222"/><rect x="709.22" y="613.43" width="2.8" height="4.21" fill="#1f3a6e"/><rect x="709.22" y="418.10" width="2.8" height="191.12" fill="#3f83c9"/><rect x="714.29" y="677.23" width="2.8" height="5.17" fill="#464646"/><rect x="714.29" y="649.38" width="2.8" height="27.85" fill="#c24f0c"/><rect x="714.29" y="644.84" width="2.8" height="4.53" fill="#5f9f35"/><rect x="714.29" y="642.64" width="2.8" height="2.20" fill="#2f67c4"/><rect x="714.29" y="641.64" width="2.8" height="1.00" fill="#f5c040"/><rect x="714.29" y="634.09" width="2.8" height="7.55" fill="#959595"/><rect x="714.29" y="611.17" width="2.8" height="22.93" fill="#ef7222"/><rect x="714.29" y="606.63" width="2.8" height="4.53" fill="#1f3a6e"/><rect x="714.29" y="400.70" width="2.8" height="201.40" fill="#3f83c9"/><rect x="719.35" y="678.13" width="2.8" height="4.27" fill="#464646"/><rect x="719.35" y="648.73" width="2.8" height="29.40" fill="#c24f0c"/><rect x="719.35" y="644.84" width="2.8" height="3.89" fill="#5f9f35"/><rect x="719.35" y="642.64" width="2.8" height="2.20" fill="#2f67c4"/><rect x="719.35" y="641.64" width="2.8" height="1.00" fill="#f5c040"/><rect x="719.35" y="633.83" width="2.8" height="7.81" fill="#959595"/><rect x="719.35" y="606.63" width="2.8" height="27.20" fill="#ef7222"/><rect x="719.35" y="601.63" width="2.8" height="5.00" fill="#1f3a6e"/><rect x="719.35" y="371.10" width="2.8" height="223.87" fill="#3f83c9"/><rect x="724.42" y="678.13" width="2.8" height="4.27" fill="#464646"/><rect x="724.42" y="646.79" width="2.8" height="31.35" fill="#c24f0c"/><rect x="724.42" y="642.90" width="2.8" height="3.89" fill="#5f9f35"/><rect x="724.42" y="640.70" width="2.8" height="2.20" fill="#2f67c4"/><rect x="724.42" y="639.70" width="2.8" height="1.00" fill="#f5c040"/><rect x="724.42" y="631.24" width="2.8" height="8.46" fill="#959595"/><rect x="724.42" y="605.08" width="2.8" height="26.17" fill="#ef7222"/><rect x="724.42" y="600.08" width="2.8" height="5.00" fill="#1f3a6e"/><rect x="724.42" y="368.40" width="2.8" height="224.63" fill="#3f83c9"/><rect x="729.48" y="678.13" width="2.8" height="4.27" fill="#464646"/><rect x="729.48" y="644.84" width="2.8" height="33.29" fill="#c24f0c"/><rect x="729.48" y="641.61" width="2.8" height="3.24" fill="#5f9f35"/><rect x="729.48" y="639.41" width="2.8" height="2.20" fill="#2f67c4"/><rect x="729.48" y="638.41" width="2.8" height="1.00" fill="#f5c040"/><rect x="729.48" y="630.60" width="2.8" height="7.81" fill="#959595"/><rect x="729.48" y="605.98" width="2.8" height="24.61" fill="#ef7222"/><rect x="729.48" y="600.98" width="2.8" height="5.00" fill="#1f3a6e"/><rect x="729.48" y="365.20" width="2.8" height="229.13" fill="#3f83c9"/><rect x="734.54" y="675.93" width="2.8" height="6.47" fill="#464646"/><rect x="734.54" y="640.05" width="2.8" height="35.88" fill="#c24f0c"/><rect x="734.54" y="637.07" width="2.8" height="2.98" fill="#5f9f35"/><rect x="734.54" y="634.87" width="2.8" height="2.20" fill="#2f67c4"/><rect x="734.54" y="633.87" width="2.8" height="1.00" fill="#f5c040"/><rect x="734.54" y="623.86" width="2.8" height="10.01" fill="#959595"/><rect x="734.54" y="593.94" width="2.8" height="29.92" fill="#ef7222"/><rect x="734.54" y="588.94" width="2.8" height="5.00" fill="#1f3a6e"/><rect x="734.54" y="313.20" width="2.8" height="266.88" fill="#3f83c9"/><rect x="739.61" y="674.64" width="2.8" height="7.76" fill="#464646"/><rect x="739.61" y="639.27" width="2.8" height="35.36" fill="#c24f0c"/><rect x="739.61" y="636.42" width="2.8" height="2.85" fill="#5f9f35"/><rect x="739.61" y="634.22" width="2.8" height="2.20" fill="#2f67c4"/><rect x="739.61" y="633.22" width="2.8" height="1.00" fill="#f5c040"/><rect x="739.61" y="623.08" width="2.8" height="10.14" fill="#959595"/><rect x="739.61" y="594.97" width="2.8" height="28.11" fill="#ef7222"/><rect x="739.61" y="589.97" width="2.8" height="5.00" fill="#1f3a6e"/><rect x="739.61" y="306.50" width="2.8" height="274.23" fill="#3f83c9"/><rect x="744.67" y="674.64" width="2.8" height="7.76" fill="#464646"/><rect x="744.67" y="640.05" width="2.8" height="34.59" fill="#c24f0c"/><rect x="744.67" y="637.07" width="2.8" height="2.98" fill="#5f9f35"/><rect x="744.67" y="634.87" width="2.8" height="2.20" fill="#2f67c4"/><rect x="744.67" y="633.87" width="2.8" height="1.00" fill="#f5c040"/><rect x="744.67" y="623.86" width="2.8" height="10.01" fill="#959595"/><rect x="744.67" y="593.94" width="2.8" height="29.92" fill="#ef7222"/><rect x="744.67" y="588.94" width="2.8" height="5.00" fill="#1f3a6e"/><rect x="744.67" y="322.70" width="2.8" height="258.03" fill="#3f83c9"/><rect x="749.74" y="675.28" width="2.8" height="7.12" fill="#464646"/><rect x="749.74" y="640.05" width="2.8" height="35.23" fill="#c24f0c"/><rect x="749.74" y="637.72" width="2.8" height="2.33" fill="#5f9f35"/><rect x="749.74" y="635.52" width="2.8" height="2.20" fill="#2f67c4"/><rect x="749.74" y="634.52" width="2.8" height="1.00" fill="#f5c040"/><rect x="749.74" y="624.77" width="2.8" height="9.75" fill="#959595"/><rect x="749.74" y="595.62" width="2.8" height="29.15" fill="#ef7222"/><rect x="749.74" y="590.62" width="2.8" height="5.00" fill="#1f3a6e"/><rect x="749.74" y="325.40" width="2.8" height="255.97" fill="#3f83c9"/><rect x="754.80" y="677.62" width="2.8" height="4.78" fill="#464646"/><rect x="754.80" y="641.61" width="2.8" height="36.01" fill="#c24f0c"/><rect x="754.80" y="639.66" width="2.8" height="1.94" fill="#5f9f35"/><rect x="754.80" y="637.46" width="2.8" height="2.20" fill="#2f67c4"/><rect x="754.80" y="636.46" width="2.8" height="1.00" fill="#f5c040"/><rect x="754.80" y="627.36" width="2.8" height="9.11" fill="#959595"/><rect x="754.80" y="600.16" width="2.8" height="27.20" fill="#ef7222"/><rect x="754.80" y="595.16" width="2.8" height="5.00" fill="#1f3a6e"/><rect x="754.80" y="352.30" width="2.8" height="232.96" fill="#3f83c9"/><rect x="759.86" y="677.94" width="2.8" height="4.46" fill="#464646"/><rect x="759.86" y="645.57" width="2.8" height="32.36" fill="#c24f0c"/><rect x="759.86" y="643.18" width="2.8" height="2.39" fill="#5f9f35"/><rect x="759.86" y="640.98" width="2.8" height="2.20" fill="#2f67c4"/><rect x="759.86" y="639.98" width="2.8" height="1.00" fill="#f5c040"/><rect x="759.86" y="631.23" width="2.8" height="8.76" fill="#959595"/><rect x="759.86" y="606.20" width="2.8" height="25.03" fill="#ef7222"/><rect x="759.86" y="601.20" width="2.8" height="5.00" fill="#1f3a6e"/><rect x="759.86" y="381.00" width="2.8" height="214.36" fill="#3f83c9"/><rect x="764.93" y="676.66" width="2.8" height="5.74" fill="#464646"/><rect x="764.93" y="646.05" width="2.8" height="30.61" fill="#c24f0c"/><rect x="764.93" y="642.39" width="2.8" height="3.67" fill="#5f9f35"/><rect x="764.93" y="640.19" width="2.8" height="2.20" fill="#2f67c4"/><rect x="764.93" y="639.19" width="2.8" height="1.00" fill="#f5c040"/><rect x="764.93" y="631.71" width="2.8" height="7.48" fill="#959595"/><rect x="764.93" y="605.72" width="2.8" height="25.98" fill="#ef7222"/><rect x="764.93" y="601.34" width="2.8" height="4.38" fill="#1f3a6e"/><rect x="764.93" y="391.30" width="2.8" height="205.65" fill="#3f83c9"/><rect x="769.99" y="676.66" width="2.8" height="5.74" fill="#464646"/><rect x="769.99" y="646.69" width="2.8" height="29.97" fill="#c24f0c"/><rect x="769.99" y="642.39" width="2.8" height="4.30" fill="#5f9f35"/><rect x="769.99" y="640.19" width="2.8" height="2.20" fill="#2f67c4"/><rect x="769.99" y="639.19" width="2.8" height="1.00" fill="#f5c040"/><rect x="769.99" y="630.43" width="2.8" height="8.76" fill="#959595"/><rect x="769.99" y="607.32" width="2.8" height="23.11" fill="#ef7222"/><rect x="769.99" y="603.33" width="2.8" height="3.99" fill="#1f3a6e"/><rect x="769.99" y="394.90" width="2.8" height="204.44" fill="#3f83c9"/><rect x="775.06" y="676.66" width="2.8" height="5.74" fill="#464646"/><rect x="775.06" y="645.57" width="2.8" height="31.09" fill="#c24f0c"/><rect x="775.06" y="640.79" width="2.8" height="4.78" fill="#5f9f35"/><rect x="775.06" y="638.59" width="2.8" height="2.20" fill="#2f67c4"/><rect x="775.06" y="637.59" width="2.8" height="1.00" fill="#f5c040"/><rect x="775.06" y="628.84" width="2.8" height="8.76" fill="#959595"/><rect x="775.06" y="606.52" width="2.8" height="22.32" fill="#ef7222"/><rect x="775.06" y="602.53" width="2.8" height="3.99" fill="#1f3a6e"/><rect x="775.06" y="389.50" width="2.8" height="209.05" fill="#3f83c9"/><rect x="780.12" y="676.66" width="2.8" height="5.74" fill="#464646"/><rect x="780.12" y="649.24" width="2.8" height="27.42" fill="#c24f0c"/><rect x="780.12" y="645.57" width="2.8" height="3.67" fill="#5f9f35"/><rect x="780.12" y="643.37" width="2.8" height="2.20" fill="#2f67c4"/><rect x="780.12" y="642.37" width="2.8" height="1.00" fill="#f5c040"/><rect x="780.12" y="633.30" width="2.8" height="9.07" fill="#959595"/><rect x="780.12" y="608.11" width="2.8" height="25.19" fill="#ef7222"/><rect x="780.12" y="604.53" width="2.8" height="3.59" fill="#1f3a6e"/><rect x="780.12" y="384.60" width="2.8" height="216.34" fill="#3f83c9"/><rect x="785.18" y="675.86" width="2.8" height="6.54" fill="#464646"/><rect x="785.18" y="643.98" width="2.8" height="31.88" fill="#c24f0c"/><rect x="785.18" y="639.20" width="2.8" height="4.78" fill="#5f9f35"/><rect x="785.18" y="637.00" width="2.8" height="2.20" fill="#2f67c4"/><rect x="785.18" y="636.00" width="2.8" height="1.00" fill="#f5c040"/><rect x="785.18" y="626.92" width="2.8" height="9.07" fill="#959595"/><rect x="785.18" y="600.94" width="2.8" height="25.98" fill="#ef7222"/><rect x="785.18" y="596.56" width="2.8" height="4.38" fill="#1f3a6e"/><rect x="785.18" y="365.80" width="2.8" height="226.37" fill="#3f83c9"/><rect x="790.25" y="676.66" width="2.8" height="5.74" fill="#464646"/><rect x="790.25" y="642.07" width="2.8" height="34.59" fill="#c24f0c"/><rect x="790.25" y="630.43" width="2.8" height="11.64" fill="#5f9f35"/><rect x="790.25" y="628.23" width="2.8" height="2.20" fill="#2f67c4"/><rect x="790.25" y="627.23" width="2.8" height="1.00" fill="#f5c040"/><rect x="790.25" y="617.36" width="2.8" height="9.87" fill="#959595"/><rect x="790.25" y="588.98" width="2.8" height="28.38" fill="#ef7222"/><rect x="790.25" y="583.98" width="2.8" height="5.00" fill="#1f3a6e"/><rect x="790.25" y="298.40" width="2.8" height="280.22" fill="#3f83c9"/><rect x="795.31" y="675.86" width="2.8" height="6.54" fill="#464646"/><rect x="795.31" y="642.07" width="2.8" height="33.80" fill="#c24f0c"/><rect x="795.31" y="638.40" width="2.8" height="3.67" fill="#5f9f35"/><rect x="795.31" y="636.20" width="2.8" height="2.20" fill="#2f67c4"/><rect x="795.31" y="635.20" width="2.8" height="1.00" fill="#f5c040"/><rect x="795.31" y="626.45" width="2.8" height="8.76" fill="#959595"/><rect x="795.31" y="600.94" width="2.8" height="25.51" fill="#ef7222"/><rect x="795.31" y="596.56" width="2.8" height="4.38" fill="#1f3a6e"/><rect x="795.31" y="351.30" width="2.8" height="240.87" fill="#3f83c9"/><rect x="800.38" y="675.86" width="2.8" height="6.54" fill="#464646"/><rect x="800.38" y="646.85" width="2.8" height="29.01" fill="#c24f0c"/><rect x="800.38" y="641.59" width="2.8" height="5.26" fill="#5f9f35"/><rect x="800.38" y="639.39" width="2.8" height="2.20" fill="#2f67c4"/><rect x="800.38" y="638.39" width="2.8" height="1.00" fill="#f5c040"/><rect x="800.38" y="629.63" width="2.8" height="8.76" fill="#959595"/><rect x="800.38" y="604.13" width="2.8" height="25.51" fill="#ef7222"/><rect x="800.38" y="600.54" width="2.8" height="3.59" fill="#1f3a6e"/><rect x="800.38" y="385.00" width="2.8" height="211.95" fill="#3f83c9"/><rect x="805.44" y="676.34" width="2.8" height="6.06" fill="#464646"/><rect x="805.44" y="647.17" width="2.8" height="29.17" fill="#c24f0c"/><rect x="805.44" y="642.39" width="2.8" height="4.78" fill="#5f9f35"/><rect x="805.44" y="640.19" width="2.8" height="2.20" fill="#2f67c4"/><rect x="805.44" y="639.19" width="2.8" height="1.00" fill="#f5c040"/><rect x="805.44" y="630.11" width="2.8" height="9.07" fill="#959595"/><rect x="805.44" y="605.72" width="2.8" height="24.39" fill="#ef7222"/><rect x="805.44" y="602.13" width="2.8" height="3.59" fill="#1f3a6e"/><rect x="805.44" y="385.40" width="2.8" height="213.15" fill="#3f83c9"/><rect x="810.50" y="675.86" width="2.8" height="6.54" fill="#464646"/><rect x="810.50" y="646.69" width="2.8" height="29.17" fill="#c24f0c"/><rect x="810.50" y="641.27" width="2.8" height="5.42" fill="#5f9f35"/><rect x="810.50" y="639.07" width="2.8" height="2.20" fill="#2f67c4"/><rect x="810.50" y="638.07" width="2.8" height="1.00" fill="#f5c040"/><rect x="810.50" y="628.84" width="2.8" height="9.23" fill="#959595"/><rect x="810.50" y="603.65" width="2.8" height="25.19" fill="#ef7222"/><rect x="810.50" y="599.50" width="2.8" height="4.14" fill="#1f3a6e"/><rect x="810.50" y="374.80" width="2.8" height="220.56" fill="#3f83c9"/><rect x="815.57" y="676.34" width="2.8" height="6.06" fill="#464646"/><rect x="815.57" y="647.97" width="2.8" height="28.38" fill="#c24f0c"/><rect x="815.57" y="641.59" width="2.8" height="6.38" fill="#5f9f35"/><rect x="815.57" y="639.39" width="2.8" height="2.20" fill="#2f67c4"/><rect x="815.57" y="638.39" width="2.8" height="1.00" fill="#f5c040"/><rect x="815.57" y="628.36" width="2.8" height="10.03" fill="#959595"/><rect x="815.57" y="600.94" width="2.8" height="27.42" fill="#ef7222"/><rect x="815.57" y="596.95" width="2.8" height="3.99" fill="#1f3a6e"/><rect x="815.57" y="364.00" width="2.8" height="228.97" fill="#3f83c9"/><rect x="820.63" y="675.07" width="2.8" height="7.33" fill="#464646"/><rect x="820.63" y="643.98" width="2.8" height="31.09" fill="#c24f0c"/><rect x="820.63" y="632.82" width="2.8" height="11.16" fill="#5f9f35"/><rect x="820.63" y="630.62" width="2.8" height="2.20" fill="#2f67c4"/><rect x="820.63" y="629.62" width="2.8" height="1.00" fill="#f5c040"/><rect x="820.63" y="620.07" width="2.8" height="9.55" fill="#959595"/><rect x="820.63" y="591.85" width="2.8" height="28.22" fill="#ef7222"/><rect x="820.63" y="587.63" width="2.8" height="4.22" fill="#1f3a6e"/><rect x="820.63" y="334.80" width="2.8" height="248.60" fill="#3f83c9"/><rect x="825.70" y="676.66" width="2.8" height="5.74" fill="#464646"/><rect x="825.70" y="638.08" width="2.8" height="38.58" fill="#c24f0c"/><rect x="825.70" y="630.11" width="2.8" height="7.97" fill="#5f9f35"/><rect x="825.70" y="627.91" width="2.8" height="2.20" fill="#2f67c4"/><rect x="825.70" y="626.91" width="2.8" height="1.00" fill="#f5c040"/><rect x="825.70" y="617.20" width="2.8" height="9.71" fill="#959595"/><rect x="825.70" y="588.98" width="2.8" height="28.22" fill="#ef7222"/><rect x="825.70" y="584.60" width="2.8" height="4.38" fill="#1f3a6e"/><rect x="825.70" y="283.10" width="2.8" height="297.12" fill="#3f83c9"/><rect x="830.76" y="676.34" width="2.8" height="6.06" fill="#464646"/><rect x="830.76" y="642.39" width="2.8" height="33.96" fill="#c24f0c"/><rect x="830.76" y="639.20" width="2.8" height="3.19" fill="#5f9f35"/><rect x="830.76" y="637.00" width="2.8" height="2.20" fill="#2f67c4"/><rect x="830.76" y="636.00" width="2.8" height="1.00" fill="#f5c040"/><rect x="830.76" y="625.65" width="2.8" height="10.35" fill="#959595"/><rect x="830.76" y="598.87" width="2.8" height="26.78" fill="#ef7222"/><rect x="830.76" y="594.32" width="2.8" height="4.54" fill="#1f3a6e"/><rect x="830.76" y="317.70" width="2.8" height="272.08" fill="#3f83c9"/><rect x="835.82" y="676.66" width="2.8" height="5.74" fill="#464646"/><rect x="835.82" y="654.02" width="2.8" height="22.64" fill="#c24f0c"/><rect x="835.82" y="642.39" width="2.8" height="11.64" fill="#5f9f35"/><rect x="835.82" y="640.19" width="2.8" height="2.20" fill="#2f67c4"/><rect x="835.82" y="639.19" width="2.8" height="1.00" fill="#f5c040"/><rect x="835.82" y="630.11" width="2.8" height="9.07" fill="#959595"/><rect x="835.82" y="604.92" width="2.8" height="25.19" fill="#ef7222"/><rect x="835.82" y="601.34" width="2.8" height="3.59" fill="#1f3a6e"/><rect x="835.82" y="404.60" width="2.8" height="193.15" fill="#3f83c9"/><rect x="840.89" y="675.86" width="2.8" height="6.54" fill="#464646"/><rect x="840.89" y="651.47" width="2.8" height="24.39" fill="#c24f0c"/><rect x="840.89" y="632.82" width="2.8" height="18.65" fill="#5f9f35"/><rect x="840.89" y="630.62" width="2.8" height="2.20" fill="#2f67c4"/><rect x="840.89" y="629.62" width="2.8" height="1.00" fill="#f5c040"/><rect x="840.89" y="620.39" width="2.8" height="9.23" fill="#959595"/><rect x="840.89" y="592.49" width="2.8" height="27.90" fill="#ef7222"/><rect x="840.89" y="588.74" width="2.8" height="3.75" fill="#1f3a6e"/><rect x="840.89" y="367.10" width="2.8" height="217.90" fill="#3f83c9"/><rect x="845.95" y="675.86" width="2.8" height="6.54" fill="#464646"/><rect x="845.95" y="648.76" width="2.8" height="27.10" fill="#c24f0c"/><rect x="845.95" y="626.92" width="2.8" height="21.84" fill="#5f9f35"/><rect x="845.95" y="624.72" width="2.8" height="2.20" fill="#2f67c4"/><rect x="845.95" y="623.72" width="2.8" height="1.00" fill="#f5c040"/><rect x="845.95" y="614.17" width="2.8" height="9.55" fill="#959595"/><rect x="845.95" y="587.39" width="2.8" height="26.78" fill="#ef7222"/><rect x="845.95" y="582.61" width="2.8" height="4.78" fill="#1f3a6e"/><rect x="845.95" y="363.50" width="2.8" height="214.32" fill="#3f83c9"/><rect x="851.02" y="675.86" width="2.8" height="6.54" fill="#464646"/><rect x="851.02" y="646.05" width="2.8" height="29.81" fill="#c24f0c"/><rect x="851.02" y="624.05" width="2.8" height="22.00" fill="#5f9f35"/><rect x="851.02" y="621.85" width="2.8" height="2.20" fill="#2f67c4"/><rect x="851.02" y="620.85" width="2.8" height="1.00" fill="#f5c040"/><rect x="851.02" y="610.98" width="2.8" height="9.87" fill="#959595"/><rect x="851.02" y="583.40" width="2.8" height="27.58" fill="#ef7222"/><rect x="851.02" y="578.40" width="2.8" height="5.00" fill="#1f3a6e"/><rect x="851.02" y="363.50" width="2.8" height="209.54" fill="#3f83c9"/><rect x="856.08" y="675.86" width="2.8" height="6.54" fill="#464646"/><rect x="856.08" y="641.11" width="2.8" height="34.75" fill="#c24f0c"/><rect x="856.08" y="618.47" width="2.8" height="22.64" fill="#5f9f35"/><rect x="856.08" y="616.27" width="2.8" height="2.20" fill="#2f67c4"/><rect x="856.08" y="615.27" width="2.8" height="1.00" fill="#f5c040"/><rect x="856.08" y="604.61" width="2.8" height="10.67" fill="#959595"/><rect x="856.08" y="577.03" width="2.8" height="27.58" fill="#ef7222"/><rect x="856.08" y="572.03" width="2.8" height="5.00" fill="#1f3a6e"/><rect x="856.08" y="318.30" width="2.8" height="248.37" fill="#3f83c9"/><rect x="861.14" y="675.86" width="2.8" height="6.54" fill="#464646"/><rect x="861.14" y="634.89" width="2.8" height="40.97" fill="#c24f0c"/><rect x="861.14" y="616.08" width="2.8" height="18.81" fill="#5f9f35"/><rect x="861.14" y="613.88" width="2.8" height="2.20" fill="#2f67c4"/><rect x="861.14" y="612.88" width="2.8" height="1.00" fill="#f5c040"/><rect x="861.14" y="601.74" width="2.8" height="11.15" fill="#959595"/><rect x="861.14" y="572.72" width="2.8" height="29.01" fill="#ef7222"/><rect x="861.14" y="567.72" width="2.8" height="5.00" fill="#1f3a6e"/><rect x="861.14" y="237.60" width="2.8" height="324.28" fill="#3f83c9"/><rect x="866.21" y="676.66" width="2.8" height="5.74" fill="#464646"/><rect x="866.21" y="637.92" width="2.8" height="38.74" fill="#c24f0c"/><rect x="866.21" y="625.65" width="2.8" height="12.27" fill="#5f9f35"/><rect x="866.21" y="623.45" width="2.8" height="2.20" fill="#2f67c4"/><rect x="866.21" y="622.45" width="2.8" height="1.00" fill="#f5c040"/><rect x="866.21" y="612.10" width="2.8" height="10.35" fill="#959595"/><rect x="866.21" y="584.20" width="2.8" height="27.90" fill="#ef7222"/><rect x="866.21" y="579.20" width="2.8" height="5.00" fill="#1f3a6e"/><rect x="866.21" y="286.90" width="2.8" height="286.14" fill="#3f83c9"/><rect x="871.27" y="675.07" width="2.8" height="7.33" fill="#464646"/><rect x="871.27" y="642.86" width="2.8" height="32.20" fill="#c24f0c"/><rect x="871.27" y="624.85" width="2.8" height="18.01" fill="#5f9f35"/><rect x="871.27" y="622.65" width="2.8" height="2.20" fill="#2f67c4"/><rect x="871.27" y="621.65" width="2.8" height="1.00" fill="#f5c040"/><rect x="871.27" y="610.98" width="2.8" height="10.67" fill="#959595"/><rect x="871.27" y="582.29" width="2.8" height="28.69" fill="#ef7222"/><rect x="871.27" y="577.29" width="2.8" height="5.00" fill="#1f3a6e"/><rect x="871.27" y="315.10" width="2.8" height="254.75" fill="#3f83c9"/><rect x="876.34" y="675.07" width="2.8" height="7.33" fill="#464646"/><rect x="876.34" y="641.59" width="2.8" height="33.48" fill="#c24f0c"/><rect x="876.34" y="617.36" width="2.8" height="24.23" fill="#5f9f35"/><rect x="876.34" y="615.16" width="2.8" height="2.20" fill="#2f67c4"/><rect x="876.34" y="614.16" width="2.8" height="1.00" fill="#f5c040"/><rect x="876.34" y="603.65" width="2.8" height="10.51" fill="#959595"/><rect x="876.34" y="572.24" width="2.8" height="31.40" fill="#ef7222"/><rect x="876.34" y="567.24" width="2.8" height="5.00" fill="#1f3a6e"/><rect x="876.34" y="296.20" width="2.8" height="265.68" fill="#3f83c9"/><rect x="881.40" y="675.86" width="2.8" height="6.54" fill="#464646"/><rect x="881.40" y="641.27" width="2.8" height="34.59" fill="#c24f0c"/><rect x="881.40" y="613.69" width="2.8" height="27.58" fill="#5f9f35"/><rect x="881.40" y="611.49" width="2.8" height="2.20" fill="#2f67c4"/><rect x="881.40" y="610.49" width="2.8" height="1.00" fill="#f5c040"/><rect x="881.40" y="599.34" width="2.8" height="11.15" fill="#959595"/><rect x="881.40" y="571.45" width="2.8" height="27.90" fill="#ef7222"/><rect x="881.40" y="568.26" width="2.8" height="3.19" fill="#1f3a6e"/><rect x="881.40" y="292.40" width="2.8" height="272.67" fill="#3f83c9"/><rect x="886.46" y="674.99" width="2.8" height="7.41" fill="#464646"/><rect x="886.46" y="640.02" width="2.8" height="34.97" fill="#c24f0c"/><rect x="886.46" y="616.17" width="2.8" height="23.85" fill="#5f9f35"/><rect x="886.46" y="613.97" width="2.8" height="2.20" fill="#2f67c4"/><rect x="886.46" y="612.97" width="2.8" height="1.00" fill="#f5c040"/><rect x="886.46" y="602.36" width="2.8" height="10.61" fill="#959595"/><rect x="886.46" y="570.08" width="2.8" height="32.28" fill="#ef7222"/><rect x="886.46" y="565.08" width="2.8" height="5.00" fill="#1f3a6e"/><rect x="886.46" y="280.80" width="2.8" height="275.83" fill="#3f83c9"/><rect x="891.53" y="674.99" width="2.8" height="7.41" fill="#464646"/><rect x="891.53" y="635.00" width="2.8" height="39.99" fill="#c24f0c"/><rect x="891.53" y="606.31" width="2.8" height="28.69" fill="#5f9f35"/><rect x="891.53" y="604.11" width="2.8" height="2.20" fill="#2f67c4"/><rect x="891.53" y="603.11" width="2.8" height="1.00" fill="#f5c040"/><rect x="891.53" y="591.60" width="2.8" height="11.51" fill="#959595"/><rect x="891.53" y="562.91" width="2.8" height="28.69" fill="#ef7222"/><rect x="891.53" y="557.91" width="2.8" height="5.00" fill="#1f3a6e"/><rect x="891.53" y="239.20" width="2.8" height="310.25" fill="#3f83c9"/><rect x="896.59" y="676.79" width="2.8" height="5.61" fill="#464646"/><rect x="896.59" y="633.74" width="2.8" height="43.04" fill="#c24f0c"/><rect x="896.59" y="614.38" width="2.8" height="19.37" fill="#5f9f35"/><rect x="896.59" y="612.18" width="2.8" height="2.20" fill="#2f67c4"/><rect x="896.59" y="611.18" width="2.8" height="1.00" fill="#f5c040"/><rect x="896.59" y="599.31" width="2.8" height="11.86" fill="#959595"/><rect x="896.59" y="568.82" width="2.8" height="30.49" fill="#ef7222"/><rect x="896.59" y="563.82" width="2.8" height="5.00" fill="#1f3a6e"/><rect x="896.59" y="221.20" width="2.8" height="333.64" fill="#3f83c9"/><rect x="901.66" y="676.79" width="2.8" height="5.61" fill="#464646"/><rect x="901.66" y="630.52" width="2.8" height="46.27" fill="#c24f0c"/><rect x="901.66" y="615.81" width="2.8" height="14.71" fill="#5f9f35"/><rect x="901.66" y="613.61" width="2.8" height="2.20" fill="#2f67c4"/><rect x="901.66" y="612.61" width="2.8" height="1.00" fill="#f5c040"/><rect x="901.66" y="601.82" width="2.8" height="10.79" fill="#959595"/><rect x="901.66" y="574.56" width="2.8" height="27.26" fill="#ef7222"/><rect x="901.66" y="569.56" width="2.8" height="5.00" fill="#1f3a6e"/><rect x="901.66" y="225.20" width="2.8" height="331.79" fill="#3f83c9"/><rect x="906.72" y="676.79" width="2.8" height="5.61" fill="#464646"/><rect x="906.72" y="632.31" width="2.8" height="44.48" fill="#c24f0c"/><rect x="906.72" y="622.98" width="2.8" height="9.33" fill="#5f9f35"/><rect x="906.72" y="620.78" width="2.8" height="2.20" fill="#2f67c4"/><rect x="906.72" y="619.78" width="2.8" height="1.00" fill="#f5c040"/><rect x="906.72" y="608.64" width="2.8" height="11.15" fill="#959595"/><rect x="906.72" y="580.48" width="2.8" height="28.16" fill="#ef7222"/><rect x="906.72" y="575.48" width="2.8" height="5.00" fill="#1f3a6e"/><rect x="906.72" y="236.50" width="2.8" height="321.03" fill="#3f83c9"/><rect x="911.78" y="674.10" width="2.8" height="8.30" fill="#464646"/><rect x="911.78" y="627.83" width="2.8" height="46.27" fill="#c24f0c"/><rect x="911.78" y="604.51" width="2.8" height="23.31" fill="#5f9f35"/><rect x="911.78" y="602.31" width="2.8" height="2.20" fill="#2f67c4"/><rect x="911.78" y="601.31" width="2.8" height="1.00" fill="#f5c040"/><rect x="911.78" y="589.81" width="2.8" height="11.51" fill="#959595"/><rect x="911.78" y="557.53" width="2.8" height="32.28" fill="#ef7222"/><rect x="911.78" y="552.53" width="2.8" height="5.00" fill="#1f3a6e"/><rect x="911.78" y="227.50" width="2.8" height="300.43" fill="#3f83c9"/><rect x="916.85" y="674.10" width="2.8" height="8.30" fill="#464646"/><rect x="916.85" y="635.54" width="2.8" height="38.56" fill="#c24f0c"/><rect x="916.85" y="608.64" width="2.8" height="26.90" fill="#5f9f35"/><rect x="916.85" y="606.44" width="2.8" height="2.20" fill="#2f67c4"/><rect x="916.85" y="605.44" width="2.8" height="1.00" fill="#f5c040"/><rect x="916.85" y="593.93" width="2.8" height="11.51" fill="#959595"/><rect x="916.85" y="563.44" width="2.8" height="30.49" fill="#ef7222"/><rect x="916.85" y="558.44" width="2.8" height="5.00" fill="#1f3a6e"/><rect x="916.85" y="220.90" width="2.8" height="317.44" fill="#3f83c9"/><rect x="921.91" y="674.10" width="2.8" height="8.30" fill="#464646"/><rect x="921.91" y="635.18" width="2.8" height="38.92" fill="#c24f0c"/><rect x="921.91" y="602.36" width="2.8" height="32.82" fill="#5f9f35"/><rect x="921.91" y="600.16" width="2.8" height="2.20" fill="#2f67c4"/><rect x="921.91" y="599.16" width="2.8" height="1.00" fill="#f5c040"/><rect x="921.91" y="588.37" width="2.8" height="10.79" fill="#959595"/><rect x="921.91" y="555.73" width="2.8" height="32.64" fill="#ef7222"/><rect x="921.91" y="550.73" width="2.8" height="5.00" fill="#1f3a6e"/><rect x="921.91" y="215.00" width="2.8" height="317.96" fill="#3f83c9"/><rect x="926.98" y="674.10" width="2.8" height="8.30" fill="#464646"/><rect x="926.98" y="631.95" width="2.8" height="42.14" fill="#c24f0c"/><rect x="926.98" y="600.03" width="2.8" height="31.92" fill="#5f9f35"/><rect x="926.98" y="597.83" width="2.8" height="2.20" fill="#2f67c4"/><rect x="926.98" y="596.83" width="2.8" height="1.00" fill="#f5c040"/><rect x="926.98" y="586.22" width="2.8" height="10.61" fill="#959595"/><rect x="926.98" y="555.73" width="2.8" height="30.49" fill="#ef7222"/><rect x="926.98" y="550.73" width="2.8" height="5.00" fill="#1f3a6e"/><rect x="926.98" y="213.20" width="2.8" height="313.48" fill="#3f83c9"/><rect x="932.04" y="676.43" width="2.8" height="5.97" fill="#464646"/><rect x="932.04" y="630.70" width="2.8" height="45.73" fill="#c24f0c"/><rect x="932.04" y="608.10" width="2.8" height="22.60" fill="#5f9f35"/><rect x="932.04" y="605.90" width="2.8" height="2.20" fill="#2f67c4"/><rect x="932.04" y="604.90" width="2.8" height="1.00" fill="#f5c040"/><rect x="932.04" y="593.93" width="2.8" height="10.97" fill="#959595"/><rect x="932.04" y="564.34" width="2.8" height="29.59" fill="#ef7222"/><rect x="932.04" y="559.34" width="2.8" height="5.00" fill="#1f3a6e"/><rect x="932.04" y="214.60" width="2.8" height="334.50" fill="#3f83c9"/><rect x="937.10" y="676.79" width="2.8" height="5.61" fill="#464646"/><rect x="937.10" y="631.95" width="2.8" height="44.84" fill="#c24f0c"/><rect x="937.10" y="617.25" width="2.8" height="14.71" fill="#5f9f35"/><rect x="937.10" y="615.05" width="2.8" height="2.20" fill="#2f67c4"/><rect x="937.10" y="614.05" width="2.8" height="1.00" fill="#f5c040"/><rect x="937.10" y="602.90" width="2.8" height="11.15" fill="#959595"/><rect x="937.10" y="576.36" width="2.8" height="26.54" fill="#ef7222"/><rect x="937.10" y="571.36" width="2.8" height="5.00" fill="#1f3a6e"/><rect x="937.10" y="223.60" width="2.8" height="338.05" fill="#3f83c9"/><rect x="942.17" y="674.10" width="2.8" height="8.30" fill="#464646"/><rect x="942.17" y="631.05" width="2.8" height="43.04" fill="#c24f0c"/><rect x="942.17" y="598.24" width="2.8" height="32.82" fill="#5f9f35"/><rect x="942.17" y="596.04" width="2.8" height="2.20" fill="#2f67c4"/><rect x="942.17" y="595.04" width="2.8" height="1.00" fill="#f5c040"/><rect x="942.17" y="584.43" width="2.8" height="10.61" fill="#959595"/><rect x="942.17" y="555.73" width="2.8" height="28.69" fill="#ef7222"/><rect x="942.17" y="550.73" width="2.8" height="5.00" fill="#1f3a6e"/><rect x="942.17" y="202.40" width="2.8" height="326.07" fill="#3f83c9"/><rect x="947.23" y="676.79" width="2.8" height="5.61" fill="#464646"/><rect x="947.23" y="632.85" width="2.8" height="43.94" fill="#c24f0c"/><rect x="947.23" y="619.76" width="2.8" height="13.09" fill="#5f9f35"/><rect x="947.23" y="617.56" width="2.8" height="2.20" fill="#2f67c4"/><rect x="947.23" y="616.56" width="2.8" height="1.00" fill="#f5c040"/><rect x="947.23" y="603.26" width="2.8" height="13.30" fill="#959595"/><rect x="947.23" y="574.92" width="2.8" height="28.34" fill="#ef7222"/><rect x="947.23" y="569.92" width="2.8" height="5.00" fill="#1f3a6e"/><rect x="947.23" y="223.00" width="2.8" height="318.38" fill="#3f83c9"/><rect x="952.30" y="674.10" width="2.8" height="8.30" fill="#464646"/><rect x="952.30" y="635.00" width="2.8" height="39.10" fill="#c24f0c"/><rect x="952.30" y="605.41" width="2.8" height="29.59" fill="#5f9f35"/><rect x="952.30" y="603.21" width="2.8" height="2.20" fill="#2f67c4"/><rect x="952.30" y="602.21" width="2.8" height="1.00" fill="#f5c040"/><rect x="952.30" y="590.70" width="2.8" height="11.51" fill="#959595"/><rect x="952.30" y="560.22" width="2.8" height="30.49" fill="#ef7222"/><rect x="952.30" y="555.22" width="2.8" height="5.00" fill="#1f3a6e"/><rect x="952.30" y="210.00" width="2.8" height="322.42" fill="#3f83c9"/><rect x="957.36" y="674.10" width="2.8" height="8.30" fill="#464646"/><rect x="957.36" y="634.10" width="2.8" height="39.99" fill="#c24f0c"/><rect x="957.36" y="603.62" width="2.8" height="30.49" fill="#5f9f35"/><rect x="957.36" y="601.42" width="2.8" height="2.20" fill="#2f67c4"/><rect x="957.36" y="600.42" width="2.8" height="1.00" fill="#f5c040"/><rect x="957.36" y="588.91" width="2.8" height="11.51" fill="#959595"/><rect x="957.36" y="558.78" width="2.8" height="30.13" fill="#ef7222"/><rect x="957.36" y="553.78" width="2.8" height="5.00" fill="#1f3a6e"/><rect x="957.36" y="212.60" width="2.8" height="318.02" fill="#3f83c9"/><rect x="962.42" y="674.10" width="2.8" height="8.30" fill="#464646"/><rect x="962.42" y="631.41" width="2.8" height="42.68" fill="#c24f0c"/><rect x="962.42" y="600.57" width="2.8" height="30.85" fill="#5f9f35"/><rect x="962.42" y="598.37" width="2.8" height="2.20" fill="#2f67c4"/><rect x="962.42" y="597.37" width="2.8" height="1.00" fill="#f5c040"/><rect x="962.42" y="586.22" width="2.8" height="11.15" fill="#959595"/><rect x="962.42" y="556.27" width="2.8" height="29.95" fill="#ef7222"/><rect x="962.42" y="551.27" width="2.8" height="5.00" fill="#1f3a6e"/><rect x="962.42" y="209.10" width="2.8" height="318.83" fill="#3f83c9"/><rect x="967.49" y="676.43" width="2.8" height="5.97" fill="#464646"/><rect x="967.49" y="631.95" width="2.8" height="44.48" fill="#c24f0c"/><rect x="967.49" y="599.67" width="2.8" height="32.28" fill="#5f9f35"/><rect x="967.49" y="597.47" width="2.8" height="2.20" fill="#2f67c4"/><rect x="967.49" y="596.47" width="2.8" height="1.00" fill="#f5c040"/><rect x="967.49" y="585.32" width="2.8" height="11.15" fill="#959595"/><rect x="967.49" y="556.99" width="2.8" height="28.34" fill="#ef7222"/><rect x="967.49" y="551.99" width="2.8" height="5.00" fill="#1f3a6e"/><rect x="967.49" y="206.40" width="2.8" height="320.64" fill="#3f83c9"/><rect x="972.55" y="676.79" width="2.8" height="5.61" fill="#464646"/><rect x="972.55" y="632.85" width="2.8" height="43.94" fill="#c24f0c"/><rect x="972.55" y="612.22" width="2.8" height="20.62" fill="#5f9f35"/><rect x="972.55" y="610.02" width="2.8" height="2.20" fill="#2f67c4"/><rect x="972.55" y="609.02" width="2.8" height="1.00" fill="#f5c040"/><rect x="972.55" y="597.88" width="2.8" height="11.15" fill="#959595"/><rect x="972.55" y="570.98" width="2.8" height="26.90" fill="#ef7222"/><rect x="972.55" y="565.98" width="2.8" height="5.00" fill="#1f3a6e"/><rect x="972.55" y="220.90" width="2.8" height="319.23" fill="#3f83c9"/><rect x="977.62" y="674.10" width="2.8" height="8.30" fill="#464646"/><rect x="977.62" y="634.10" width="2.8" height="39.99" fill="#c24f0c"/><rect x="977.62" y="602.90" width="2.8" height="31.21" fill="#5f9f35"/><rect x="977.62" y="600.70" width="2.8" height="2.20" fill="#2f67c4"/><rect x="977.62" y="599.70" width="2.8" height="1.00" fill="#f5c040"/><rect x="977.62" y="588.55" width="2.8" height="11.15" fill="#959595"/><rect x="977.62" y="558.78" width="2.8" height="29.77" fill="#ef7222"/><rect x="977.62" y="553.78" width="2.8" height="5.00" fill="#1f3a6e"/><rect x="977.62" y="213.50" width="2.8" height="322.50" fill="#3f83c9"/><rect x="982.68" y="674.10" width="2.8" height="8.30" fill="#464646"/><rect x="982.68" y="635.54" width="2.8" height="38.56" fill="#c24f0c"/><rect x="982.68" y="604.15" width="2.8" height="31.38" fill="#5f9f35"/><rect x="982.68" y="601.95" width="2.8" height="2.20" fill="#2f67c4"/><rect x="982.68" y="600.95" width="2.8" height="1.00" fill="#f5c040"/><rect x="982.68" y="589.81" width="2.8" height="11.15" fill="#959595"/><rect x="982.68" y="558.42" width="2.8" height="31.38" fill="#ef7222"/><rect x="982.68" y="553.42" width="2.8" height="5.00" fill="#1f3a6e"/><rect x="982.68" y="216.40" width="2.8" height="316.91" fill="#3f83c9"/><rect x="987.74" y="673.56" width="2.8" height="8.84" fill="#464646"/><rect x="987.74" y="634.10" width="2.8" height="39.45" fill="#c24f0c"/><rect x="987.74" y="597.34" width="2.8" height="36.76" fill="#5f9f35"/><rect x="987.74" y="595.14" width="2.8" height="2.20" fill="#2f67c4"/><rect x="987.74" y="594.14" width="2.8" height="1.00" fill="#f5c040"/><rect x="987.74" y="582.63" width="2.8" height="11.51" fill="#959595"/><rect x="987.74" y="553.04" width="2.8" height="29.59" fill="#ef7222"/><rect x="987.74" y="548.04" width="2.8" height="5.00" fill="#1f3a6e"/><rect x="987.74" y="206.00" width="2.8" height="318.35" fill="#3f83c9"/><rect x="992.81" y="674.10" width="2.8" height="8.30" fill="#464646"/><rect x="992.81" y="635.00" width="2.8" height="39.10" fill="#c24f0c"/><rect x="992.81" y="600.21" width="2.8" height="34.79" fill="#5f9f35"/><rect x="992.81" y="598.01" width="2.8" height="2.20" fill="#2f67c4"/><rect x="992.81" y="597.01" width="2.8" height="1.00" fill="#f5c040"/><rect x="992.81" y="585.32" width="2.8" height="11.69" fill="#959595"/><rect x="992.81" y="555.19" width="2.8" height="30.13" fill="#ef7222"/><rect x="992.81" y="550.19" width="2.8" height="5.00" fill="#1f3a6e"/><rect x="992.81" y="208.30" width="2.8" height="316.94" fill="#3f83c9"/><rect x="997.87" y="673.56" width="2.8" height="8.84" fill="#464646"/><rect x="997.87" y="633.39" width="2.8" height="40.17" fill="#c24f0c"/><rect x="997.87" y="601.82" width="2.8" height="31.56" fill="#5f9f35"/><rect x="997.87" y="599.62" width="2.8" height="2.20" fill="#2f67c4"/><rect x="997.87" y="598.62" width="2.8" height="1.00" fill="#f5c040"/><rect x="997.87" y="585.86" width="2.8" height="12.76" fill="#959595"/><rect x="997.87" y="554.84" width="2.8" height="31.03" fill="#ef7222"/><rect x="997.87" y="549.84" width="2.8" height="5.00" fill="#1f3a6e"/><rect x="997.87" y="206.80" width="2.8" height="316.65" fill="#3f83c9"/><rect x="1002.94" y="676.43" width="2.8" height="5.97" fill="#464646"/><rect x="1002.94" y="632.85" width="2.8" height="43.58" fill="#c24f0c"/><rect x="1002.94" y="605.41" width="2.8" height="27.44" fill="#5f9f35"/><rect x="1002.94" y="603.21" width="2.8" height="2.20" fill="#2f67c4"/><rect x="1002.94" y="602.21" width="2.8" height="1.00" fill="#f5c040"/><rect x="1002.94" y="591.60" width="2.8" height="10.61" fill="#959595"/><rect x="1002.94" y="562.37" width="2.8" height="29.23" fill="#ef7222"/><rect x="1002.94" y="557.37" width="2.8" height="5.00" fill="#1f3a6e"/><rect x="1002.94" y="217.20" width="2.8" height="313.42" fill="#3f83c9"/><rect x="1008.00" y="676.79" width="2.8" height="5.61" fill="#464646"/><rect x="1008.00" y="632.85" width="2.8" height="43.94" fill="#c24f0c"/><rect x="1008.00" y="611.87" width="2.8" height="20.98" fill="#5f9f35"/><rect x="1008.00" y="609.67" width="2.8" height="2.20" fill="#2f67c4"/><rect x="1008.00" y="608.67" width="2.8" height="1.00" fill="#f5c040"/><rect x="1008.00" y="597.88" width="2.8" height="10.79" fill="#959595"/><rect x="1008.00" y="569.72" width="2.8" height="28.16" fill="#ef7222"/><rect x="1008.00" y="564.72" width="2.8" height="5.00" fill="#1f3a6e"/><rect x="1008.00" y="224.30" width="2.8" height="315.29" fill="#3f83c9"/><rect x="1013.06" y="674.63" width="2.8" height="7.77" fill="#464646"/><rect x="1013.06" y="633.21" width="2.8" height="41.43" fill="#c24f0c"/><rect x="1013.06" y="599.67" width="2.8" height="33.54" fill="#5f9f35"/><rect x="1013.06" y="597.47" width="2.8" height="2.20" fill="#2f67c4"/><rect x="1013.06" y="596.47" width="2.8" height="1.00" fill="#f5c040"/><rect x="1013.06" y="584.43" width="2.8" height="12.04" fill="#959595"/><rect x="1013.06" y="555.73" width="2.8" height="28.69" fill="#ef7222"/><rect x="1013.06" y="550.73" width="2.8" height="5.00" fill="#1f3a6e"/><rect x="1013.06" y="211.40" width="2.8" height="316.53" fill="#3f83c9"/><rect x="1018.13" y="674.63" width="2.8" height="7.77" fill="#464646"/><rect x="1018.13" y="635.00" width="2.8" height="39.63" fill="#c24f0c"/><rect x="1018.13" y="606.48" width="2.8" height="28.52" fill="#5f9f35"/><rect x="1018.13" y="604.28" width="2.8" height="2.20" fill="#2f67c4"/><rect x="1018.13" y="603.28" width="2.8" height="1.00" fill="#f5c040"/><rect x="1018.13" y="591.60" width="2.8" height="11.69" fill="#959595"/><rect x="1018.13" y="560.57" width="2.8" height="31.03" fill="#ef7222"/><rect x="1018.13" y="555.57" width="2.8" height="5.00" fill="#1f3a6e"/><rect x="1018.13" y="214.10" width="2.8" height="317.42" fill="#3f83c9"/><rect x="1023.19" y="674.63" width="2.8" height="7.77" fill="#464646"/><rect x="1023.19" y="633.74" width="2.8" height="40.89" fill="#c24f0c"/><rect x="1023.19" y="596.08" width="2.8" height="37.66" fill="#5f9f35"/><rect x="1023.19" y="593.88" width="2.8" height="2.20" fill="#2f67c4"/><rect x="1023.19" y="592.88" width="2.8" height="1.00" fill="#f5c040"/><rect x="1023.19" y="580.48" width="2.8" height="12.40" fill="#959595"/><rect x="1023.19" y="548.56" width="2.8" height="31.92" fill="#ef7222"/><rect x="1023.19" y="543.56" width="2.8" height="5.00" fill="#1f3a6e"/><rect x="1023.19" y="201.80" width="2.8" height="316.27" fill="#3f83c9"/><rect x="1028.26" y="674.63" width="2.8" height="7.77" fill="#464646"/><rect x="1028.26" y="635.00" width="2.8" height="39.63" fill="#c24f0c"/><rect x="1028.26" y="605.05" width="2.8" height="29.95" fill="#5f9f35"/><rect x="1028.26" y="602.85" width="2.8" height="2.20" fill="#2f67c4"/><rect x="1028.26" y="601.85" width="2.8" height="1.00" fill="#f5c040"/><rect x="1028.26" y="590.70" width="2.8" height="11.15" fill="#959595"/><rect x="1028.26" y="559.86" width="2.8" height="30.85" fill="#ef7222"/><rect x="1028.26" y="554.86" width="2.8" height="5.00" fill="#1f3a6e"/><rect x="1028.26" y="213.00" width="2.8" height="315.83" fill="#3f83c9"/><rect x="1033.32" y="674.63" width="2.8" height="7.77" fill="#464646"/><rect x="1033.32" y="632.85" width="2.8" height="41.79" fill="#c24f0c"/><rect x="1033.32" y="602.36" width="2.8" height="30.49" fill="#5f9f35"/><rect x="1033.32" y="600.16" width="2.8" height="2.20" fill="#2f67c4"/><rect x="1033.32" y="599.16" width="2.8" height="1.00" fill="#f5c040"/><rect x="1033.32" y="586.76" width="2.8" height="12.40" fill="#959595"/><rect x="1033.32" y="557.53" width="2.8" height="29.23" fill="#ef7222"/><rect x="1033.32" y="552.53" width="2.8" height="5.00" fill="#1f3a6e"/><rect x="1033.32" y="211.80" width="2.8" height="318.82" fill="#3f83c9"/><rect x="1038.38" y="676.79" width="2.8" height="5.61" fill="#464646"/><rect x="1038.38" y="631.05" width="2.8" height="45.73" fill="#c24f0c"/><rect x="1038.38" y="597.52" width="2.8" height="33.54" fill="#5f9f35"/><rect x="1038.38" y="595.32" width="2.8" height="2.20" fill="#2f67c4"/><rect x="1038.38" y="594.32" width="2.8" height="1.00" fill="#f5c040"/><rect x="1038.38" y="582.63" width="2.8" height="11.69" fill="#959595"/><rect x="1038.38" y="554.84" width="2.8" height="27.80" fill="#ef7222"/><rect x="1038.38" y="549.84" width="2.8" height="5.00" fill="#1f3a6e"/><rect x="1038.38" y="202.20" width="2.8" height="316.77" fill="#3f83c9"/><rect x="1043.45" y="676.79" width="2.8" height="5.61" fill="#464646"/><rect x="1043.45" y="636.08" width="2.8" height="40.71" fill="#c24f0c"/><rect x="1043.45" y="602.36" width="2.8" height="33.72" fill="#5f9f35"/><rect x="1043.45" y="600.16" width="2.8" height="2.20" fill="#2f67c4"/><rect x="1043.45" y="599.16" width="2.8" height="1.00" fill="#f5c040"/><rect x="1043.45" y="587.47" width="2.8" height="11.69" fill="#959595"/><rect x="1043.45" y="560.22" width="2.8" height="27.26" fill="#ef7222"/><rect x="1043.45" y="555.22" width="2.8" height="5.00" fill="#1f3a6e"/><rect x="1043.45" y="200.50" width="2.8" height="327.43" fill="#3f83c9"/><rect x="1048.51" y="676.79" width="2.8" height="5.61" fill="#464646"/><rect x="1048.51" y="636.43" width="2.8" height="40.35" fill="#c24f0c"/><rect x="1048.51" y="601.46" width="2.8" height="34.97" fill="#5f9f35"/><rect x="1048.51" y="599.26" width="2.8" height="2.20" fill="#2f67c4"/><rect x="1048.51" y="598.26" width="2.8" height="1.00" fill="#f5c040"/><rect x="1048.51" y="586.22" width="2.8" height="12.04" fill="#959595"/><rect x="1048.51" y="556.27" width="2.8" height="29.95" fill="#ef7222"/><rect x="1048.51" y="551.27" width="2.8" height="5.00" fill="#1f3a6e"/><rect x="1048.51" y="208.10" width="2.8" height="310.87" fill="#3f83c9"/></g>
<g><rect x="445.90" y="598.34" width="2.80" height="1.08" rx="1.2" fill="#fff" stroke="#1f3a6e" stroke-width="1"/><rect x="450.96" y="603.48" width="2.80" height="1.08" rx="1.2" fill="#fff" stroke="#1f3a6e" stroke-width="1"/><rect x="456.02" y="602.04" width="2.80" height="1.14" rx="1.2" fill="#fff" stroke="#1f3a6e" stroke-width="1"/><rect x="461.09" y="605.27" width="2.80" height="1.20" rx="1.2" fill="#fff" stroke="#1f3a6e" stroke-width="1"/><rect x="466.15" y="590.33" width="2.80" height="1.20" rx="1.2" fill="#fff" stroke="#1f3a6e" stroke-width="1"/><rect x="471.22" y="583.75" width="2.80" height="1.79" rx="1.2" fill="#fff" stroke="#1f3a6e" stroke-width="1"/><rect x="476.28" y="599.29" width="2.80" height="1.37" rx="1.2" fill="#fff" stroke="#1f3a6e" stroke-width="1"/><rect x="481.34" y="607.66" width="2.80" height="1.20" rx="1.2" fill="#fff" stroke="#1f3a6e" stroke-width="1"/><rect x="486.41" y="608.02" width="2.80" height="1.02" rx="1.2" fill="#fff" stroke="#1f3a6e" stroke-width="1"/><rect x="491.47" y="602.04" width="2.80" height="1.20" rx="1.2" fill="#fff" stroke="#1f3a6e" stroke-width="1"/><rect x="496.54" y="605.87" width="2.80" height="1.20" rx="1.2" fill="#fff" stroke="#1f3a6e" stroke-width="1"/><rect x="501.60" y="593.91" width="2.80" height="1.49" rx="1.2" fill="#fff" stroke="#1f3a6e" stroke-width="1"/><rect x="506.66" y="575.38" width="2.80" height="1.79" rx="1.2" fill="#fff" stroke="#1f3a6e" stroke-width="1"/><rect x="511.73" y="595.11" width="2.80" height="2.39" rx="1.2" fill="#fff" stroke="#1f3a6e" stroke-width="1"/><rect x="516.79" y="609.45" width="2.80" height="2.09" rx="1.2" fill="#fff" stroke="#1f3a6e" stroke-width="1"/><rect x="521.86" y="617.82" width="2.80" height="1.49" rx="1.2" fill="#fff" stroke="#1f3a6e" stroke-width="1"/><rect x="526.92" y="612.44" width="2.80" height="1.67" rx="1.2" fill="#fff" stroke="#1f3a6e" stroke-width="1"/><rect x="531.98" y="607.66" width="2.80" height="2.09" rx="1.2" fill="#fff" stroke="#1f3a6e" stroke-width="1"/><rect x="537.05" y="590.33" width="2.80" height="2.09" rx="1.2" fill="#fff" stroke="#1f3a6e" stroke-width="1"/><rect x="542.11" y="591.52" width="2.80" height="3.29" rx="1.2" fill="#fff" stroke="#1f3a6e" stroke-width="1"/><rect x="547.18" y="611.25" width="2.80" height="2.39" rx="1.2" fill="#fff" stroke="#1f3a6e" stroke-width="1"/><rect x="552.24" y="616.03" width="2.80" height="1.79" rx="1.2" fill="#fff" stroke="#1f3a6e" stroke-width="1"/><rect x="557.30" y="615.43" width="2.80" height="1.79" rx="1.2" fill="#fff" stroke="#1f3a6e" stroke-width="1"/><rect x="562.37" y="612.44" width="2.80" height="1.79" rx="1.2" fill="#fff" stroke="#1f3a6e" stroke-width="1"/><rect x="567.43" y="613.64" width="2.80" height="2.09" rx="1.2" fill="#fff" stroke="#1f3a6e" stroke-width="1"/><rect x="572.50" y="592.12" width="2.80" height="2.09" rx="1.2" fill="#fff" stroke="#1f3a6e" stroke-width="1"/><rect x="577.56" y="578.97" width="2.80" height="4.78" rx="1.2" fill="#fff" stroke="#1f3a6e" stroke-width="1"/><rect x="582.62" y="584.95" width="2.80" height="4.78" rx="1.2" fill="#fff" stroke="#1f3a6e" stroke-width="1"/><rect x="587.69" y="615.43" width="2.80" height="2.09" rx="1.2" fill="#fff" stroke="#1f3a6e" stroke-width="1"/><rect x="592.75" y="613.64" width="2.80" height="1.97" rx="1.2" fill="#fff" stroke="#1f3a6e" stroke-width="1"/><rect x="597.82" y="608.26" width="2.80" height="2.09" rx="1.2" fill="#fff" stroke="#1f3a6e" stroke-width="1"/><rect x="602.88" y="616.03" width="2.80" height="1.79" rx="1.2" fill="#fff" stroke="#1f3a6e" stroke-width="1"/><rect x="607.94" y="609.45" width="2.80" height="2.09" rx="1.2" fill="#fff" stroke="#1f3a6e" stroke-width="1"/><rect x="613.01" y="598.10" width="2.80" height="4.18" rx="1.2" fill="#fff" stroke="#1f3a6e" stroke-width="1"/><rect x="618.07" y="586.14" width="2.80" height="4.78" rx="1.2" fill="#fff" stroke="#1f3a6e" stroke-width="1"/><rect x="623.14" y="599.29" width="2.80" height="4.18" rx="1.2" fill="#fff" stroke="#1f3a6e" stroke-width="1"/><rect x="628.20" y="619.02" width="2.80" height="2.39" rx="1.2" fill="#fff" stroke="#1f3a6e" stroke-width="1"/><rect x="633.26" y="593.03" width="2.80" height="4.08" rx="1.2" fill="#fff" stroke="#1f3a6e" stroke-width="1"/><rect x="638.33" y="618.94" width="2.80" height="3.43" rx="1.2" fill="#fff" stroke="#1f3a6e" stroke-width="1"/><rect x="643.39" y="614.40" width="2.80" height="3.11" rx="1.2" fill="#fff" stroke="#1f3a6e" stroke-width="1"/><rect x="648.46" y="599.51" width="2.80" height="5.10" rx="1.2" fill="#fff" stroke="#1f3a6e" stroke-width="1"/><rect x="653.52" y="607.93" width="2.80" height="4.53" rx="1.2" fill="#fff" stroke="#1f3a6e" stroke-width="1"/><rect x="658.58" y="601.45" width="2.80" height="4.08" rx="1.2" fill="#fff" stroke="#1f3a6e" stroke-width="1"/><rect x="663.65" y="611.17" width="2.80" height="3.43" rx="1.2" fill="#fff" stroke="#1f3a6e" stroke-width="1"/><rect x="668.71" y="612.46" width="2.80" height="3.43" rx="1.2" fill="#fff" stroke="#1f3a6e" stroke-width="1"/><rect x="673.78" y="615.05" width="2.80" height="3.24" rx="1.2" fill="#fff" stroke="#1f3a6e" stroke-width="1"/><rect x="678.84" y="616.99" width="2.80" height="3.56" rx="1.2" fill="#fff" stroke="#1f3a6e" stroke-width="1"/><rect x="683.90" y="607.93" width="2.80" height="6.01" rx="1.2" fill="#fff" stroke="#1f3a6e" stroke-width="1"/><rect x="688.97" y="606.63" width="2.80" height="6.27" rx="1.2" fill="#fff" stroke="#1f3a6e" stroke-width="1"/><rect x="694.03" y="613.76" width="2.80" height="3.89" rx="1.2" fill="#fff" stroke="#1f3a6e" stroke-width="1"/><rect x="699.10" y="611.17" width="2.80" height="3.89" rx="1.2" fill="#fff" stroke="#1f3a6e" stroke-width="1"/><rect x="704.16" y="611.81" width="2.80" height="3.89" rx="1.2" fill="#fff" stroke="#1f3a6e" stroke-width="1"/><rect x="709.22" y="609.22" width="2.80" height="4.21" rx="1.2" fill="#fff" stroke="#1f3a6e" stroke-width="1"/><rect x="714.29" y="602.10" width="2.80" height="4.53" rx="1.2" fill="#fff" stroke="#1f3a6e" stroke-width="1"/><rect x="719.35" y="594.97" width="2.80" height="6.66" rx="1.2" fill="#fff" stroke="#1f3a6e" stroke-width="1"/><rect x="724.42" y="593.03" width="2.80" height="7.05" rx="1.2" fill="#fff" stroke="#1f3a6e" stroke-width="1"/><rect x="729.48" y="594.33" width="2.80" height="6.66" rx="1.2" fill="#fff" stroke="#1f3a6e" stroke-width="1"/><rect x="734.54" y="580.08" width="2.80" height="8.86" rx="1.2" fill="#fff" stroke="#1f3a6e" stroke-width="1"/><rect x="739.61" y="580.73" width="2.80" height="9.25" rx="1.2" fill="#fff" stroke="#1f3a6e" stroke-width="1"/><rect x="744.67" y="580.73" width="2.80" height="8.21" rx="1.2" fill="#fff" stroke="#1f3a6e" stroke-width="1"/><rect x="749.74" y="581.37" width="2.80" height="9.25" rx="1.2" fill="#fff" stroke="#1f3a6e" stroke-width="1"/><rect x="754.80" y="585.26" width="2.80" height="9.90" rx="1.2" fill="#fff" stroke="#1f3a6e" stroke-width="1"/><rect x="759.86" y="595.36" width="2.80" height="5.84" rx="1.2" fill="#fff" stroke="#1f3a6e" stroke-width="1"/><rect x="764.93" y="596.95" width="2.80" height="4.38" rx="1.2" fill="#fff" stroke="#1f3a6e" stroke-width="1"/><rect x="769.99" y="599.34" width="2.80" height="3.99" rx="1.2" fill="#fff" stroke="#1f3a6e" stroke-width="1"/><rect x="775.06" y="598.55" width="2.80" height="3.99" rx="1.2" fill="#fff" stroke="#1f3a6e" stroke-width="1"/><rect x="780.12" y="600.94" width="2.80" height="3.59" rx="1.2" fill="#fff" stroke="#1f3a6e" stroke-width="1"/><rect x="785.18" y="592.17" width="2.80" height="4.38" rx="1.2" fill="#fff" stroke="#1f3a6e" stroke-width="1"/><rect x="790.25" y="578.62" width="2.80" height="5.36" rx="1.2" fill="#fff" stroke="#1f3a6e" stroke-width="1"/><rect x="795.31" y="592.17" width="2.80" height="4.38" rx="1.2" fill="#fff" stroke="#1f3a6e" stroke-width="1"/><rect x="800.38" y="596.95" width="2.80" height="3.59" rx="1.2" fill="#fff" stroke="#1f3a6e" stroke-width="1"/><rect x="805.44" y="598.55" width="2.80" height="3.59" rx="1.2" fill="#fff" stroke="#1f3a6e" stroke-width="1"/><rect x="810.50" y="595.36" width="2.80" height="4.14" rx="1.2" fill="#fff" stroke="#1f3a6e" stroke-width="1"/><rect x="815.57" y="592.97" width="2.80" height="3.99" rx="1.2" fill="#fff" stroke="#1f3a6e" stroke-width="1"/><rect x="820.63" y="583.40" width="2.80" height="4.22" rx="1.2" fill="#fff" stroke="#1f3a6e" stroke-width="1"/><rect x="825.70" y="580.22" width="2.80" height="4.38" rx="1.2" fill="#fff" stroke="#1f3a6e" stroke-width="1"/><rect x="830.76" y="589.78" width="2.80" height="4.54" rx="1.2" fill="#fff" stroke="#1f3a6e" stroke-width="1"/><rect x="835.82" y="597.75" width="2.80" height="3.59" rx="1.2" fill="#fff" stroke="#1f3a6e" stroke-width="1"/><rect x="840.89" y="585.00" width="2.80" height="3.75" rx="1.2" fill="#fff" stroke="#1f3a6e" stroke-width="1"/><rect x="845.95" y="577.82" width="2.80" height="4.78" rx="1.2" fill="#fff" stroke="#1f3a6e" stroke-width="1"/><rect x="851.02" y="573.04" width="2.80" height="5.36" rx="1.2" fill="#fff" stroke="#1f3a6e" stroke-width="1"/><rect x="856.08" y="566.67" width="2.80" height="5.36" rx="1.2" fill="#fff" stroke="#1f3a6e" stroke-width="1"/><rect x="861.14" y="561.88" width="2.80" height="5.84" rx="1.2" fill="#fff" stroke="#1f3a6e" stroke-width="1"/><rect x="866.21" y="573.04" width="2.80" height="6.16" rx="1.2" fill="#fff" stroke="#1f3a6e" stroke-width="1"/><rect x="871.27" y="569.85" width="2.80" height="7.43" rx="1.2" fill="#fff" stroke="#1f3a6e" stroke-width="1"/><rect x="876.34" y="561.88" width="2.80" height="5.36" rx="1.2" fill="#fff" stroke="#1f3a6e" stroke-width="1"/><rect x="881.40" y="565.07" width="2.80" height="3.19" rx="1.2" fill="#fff" stroke="#1f3a6e" stroke-width="1"/><rect x="886.46" y="561.58" width="2.80" height="3.50" rx="1.2" fill="#fff" stroke="#1f3a6e" stroke-width="1"/><rect x="886.46" y="556.63" width="2.80" height="4.95" rx="1.2" fill="#fff" stroke="#4a7fc0" stroke-width="1"/><rect x="891.53" y="554.41" width="2.80" height="3.50" rx="1.2" fill="#fff" stroke="#1f3a6e" stroke-width="1"/><rect x="891.53" y="549.45" width="2.80" height="4.95" rx="1.2" fill="#fff" stroke="#4a7fc0" stroke-width="1"/><rect x="896.59" y="560.32" width="2.80" height="3.50" rx="1.2" fill="#fff" stroke="#1f3a6e" stroke-width="1"/><rect x="896.59" y="554.84" width="2.80" height="5.49" rx="1.2" fill="#fff" stroke="#4a7fc0" stroke-width="1"/><rect x="901.66" y="566.06" width="2.80" height="3.50" rx="1.2" fill="#fff" stroke="#1f3a6e" stroke-width="1"/><rect x="901.66" y="556.99" width="2.80" height="9.08" rx="1.2" fill="#fff" stroke="#4a7fc0" stroke-width="1"/><rect x="906.72" y="571.98" width="2.80" height="3.50" rx="1.2" fill="#fff" stroke="#1f3a6e" stroke-width="1"/><rect x="906.72" y="557.53" width="2.80" height="14.46" rx="1.2" fill="#fff" stroke="#4a7fc0" stroke-width="1"/><rect x="911.78" y="549.03" width="2.80" height="3.50" rx="1.2" fill="#fff" stroke="#1f3a6e" stroke-width="1"/><rect x="911.78" y="527.93" width="2.80" height="21.09" rx="1.2" fill="#fff" stroke="#4a7fc0" stroke-width="1"/><rect x="916.85" y="554.94" width="2.80" height="3.50" rx="1.2" fill="#fff" stroke="#1f3a6e" stroke-width="1"/><rect x="916.85" y="538.34" width="2.80" height="16.61" rx="1.2" fill="#fff" stroke="#4a7fc0" stroke-width="1"/><rect x="921.91" y="547.23" width="2.80" height="3.50" rx="1.2" fill="#fff" stroke="#1f3a6e" stroke-width="1"/><rect x="921.91" y="532.96" width="2.80" height="14.28" rx="1.2" fill="#fff" stroke="#4a7fc0" stroke-width="1"/><rect x="926.98" y="547.23" width="2.80" height="3.50" rx="1.2" fill="#fff" stroke="#1f3a6e" stroke-width="1"/><rect x="926.98" y="526.68" width="2.80" height="20.55" rx="1.2" fill="#fff" stroke="#4a7fc0" stroke-width="1"/><rect x="932.04" y="555.84" width="2.80" height="3.50" rx="1.2" fill="#fff" stroke="#1f3a6e" stroke-width="1"/><rect x="932.04" y="549.10" width="2.80" height="6.74" rx="1.2" fill="#fff" stroke="#4a7fc0" stroke-width="1"/><rect x="937.10" y="567.86" width="2.80" height="3.50" rx="1.2" fill="#fff" stroke="#1f3a6e" stroke-width="1"/><rect x="937.10" y="561.65" width="2.80" height="6.21" rx="1.2" fill="#fff" stroke="#4a7fc0" stroke-width="1"/><rect x="942.17" y="547.23" width="2.80" height="3.50" rx="1.2" fill="#fff" stroke="#1f3a6e" stroke-width="1"/><rect x="942.17" y="528.47" width="2.80" height="18.76" rx="1.2" fill="#fff" stroke="#4a7fc0" stroke-width="1"/><rect x="947.23" y="566.42" width="2.80" height="3.50" rx="1.2" fill="#fff" stroke="#1f3a6e" stroke-width="1"/><rect x="947.23" y="541.38" width="2.80" height="25.04" rx="1.2" fill="#fff" stroke="#4a7fc0" stroke-width="1"/><rect x="952.30" y="551.72" width="2.80" height="3.50" rx="1.2" fill="#fff" stroke="#1f3a6e" stroke-width="1"/><rect x="952.30" y="532.42" width="2.80" height="19.30" rx="1.2" fill="#fff" stroke="#4a7fc0" stroke-width="1"/><rect x="957.36" y="550.28" width="2.80" height="3.50" rx="1.2" fill="#fff" stroke="#1f3a6e" stroke-width="1"/><rect x="957.36" y="530.62" width="2.80" height="19.66" rx="1.2" fill="#fff" stroke="#4a7fc0" stroke-width="1"/><rect x="962.42" y="547.77" width="2.80" height="3.50" rx="1.2" fill="#fff" stroke="#1f3a6e" stroke-width="1"/><rect x="962.42" y="527.93" width="2.80" height="19.84" rx="1.2" fill="#fff" stroke="#4a7fc0" stroke-width="1"/><rect x="967.49" y="548.49" width="2.80" height="3.50" rx="1.2" fill="#fff" stroke="#1f3a6e" stroke-width="1"/><rect x="967.49" y="527.04" width="2.80" height="21.45" rx="1.2" fill="#fff" stroke="#4a7fc0" stroke-width="1"/><rect x="972.55" y="562.48" width="2.80" height="3.50" rx="1.2" fill="#fff" stroke="#1f3a6e" stroke-width="1"/><rect x="972.55" y="540.13" width="2.80" height="22.35" rx="1.2" fill="#fff" stroke="#4a7fc0" stroke-width="1"/><rect x="977.62" y="550.28" width="2.80" height="3.50" rx="1.2" fill="#fff" stroke="#1f3a6e" stroke-width="1"/><rect x="977.62" y="536.00" width="2.80" height="14.28" rx="1.2" fill="#fff" stroke="#4a7fc0" stroke-width="1"/><rect x="982.68" y="549.92" width="2.80" height="3.50" rx="1.2" fill="#fff" stroke="#1f3a6e" stroke-width="1"/><rect x="982.68" y="533.31" width="2.80" height="16.61" rx="1.2" fill="#fff" stroke="#4a7fc0" stroke-width="1"/><rect x="987.74" y="544.54" width="2.80" height="3.50" rx="1.2" fill="#fff" stroke="#1f3a6e" stroke-width="1"/><rect x="987.74" y="524.35" width="2.80" height="20.19" rx="1.2" fill="#fff" stroke="#4a7fc0" stroke-width="1"/><rect x="992.81" y="546.69" width="2.80" height="3.50" rx="1.2" fill="#fff" stroke="#1f3a6e" stroke-width="1"/><rect x="992.81" y="525.24" width="2.80" height="21.45" rx="1.2" fill="#fff" stroke="#4a7fc0" stroke-width="1"/><rect x="997.87" y="546.34" width="2.80" height="3.50" rx="1.2" fill="#fff" stroke="#1f3a6e" stroke-width="1"/><rect x="997.87" y="523.45" width="2.80" height="22.88" rx="1.2" fill="#fff" stroke="#4a7fc0" stroke-width="1"/><rect x="1002.94" y="553.87" width="2.80" height="3.50" rx="1.2" fill="#fff" stroke="#1f3a6e" stroke-width="1"/><rect x="1002.94" y="530.62" width="2.80" height="23.24" rx="1.2" fill="#fff" stroke="#4a7fc0" stroke-width="1"/><rect x="1008.00" y="561.22" width="2.80" height="3.50" rx="1.2" fill="#fff" stroke="#1f3a6e" stroke-width="1"/><rect x="1008.00" y="539.59" width="2.80" height="21.63" rx="1.2" fill="#fff" stroke="#4a7fc0" stroke-width="1"/><rect x="1013.06" y="547.23" width="2.80" height="3.50" rx="1.2" fill="#fff" stroke="#1f3a6e" stroke-width="1"/><rect x="1013.06" y="527.93" width="2.80" height="19.30" rx="1.2" fill="#fff" stroke="#4a7fc0" stroke-width="1"/><rect x="1018.13" y="552.07" width="2.80" height="3.50" rx="1.2" fill="#fff" stroke="#1f3a6e" stroke-width="1"/><rect x="1018.13" y="531.52" width="2.80" height="20.55" rx="1.2" fill="#fff" stroke="#4a7fc0" stroke-width="1"/><rect x="1023.19" y="540.06" width="2.80" height="3.50" rx="1.2" fill="#fff" stroke="#1f3a6e" stroke-width="1"/><rect x="1023.19" y="518.07" width="2.80" height="21.99" rx="1.2" fill="#fff" stroke="#4a7fc0" stroke-width="1"/><rect x="1028.26" y="551.36" width="2.80" height="3.50" rx="1.2" fill="#fff" stroke="#1f3a6e" stroke-width="1"/><rect x="1028.26" y="528.83" width="2.80" height="22.53" rx="1.2" fill="#fff" stroke="#4a7fc0" stroke-width="1"/><rect x="1033.32" y="549.03" width="2.80" height="3.50" rx="1.2" fill="#fff" stroke="#1f3a6e" stroke-width="1"/><rect x="1033.32" y="530.62" width="2.80" height="18.40" rx="1.2" fill="#fff" stroke="#4a7fc0" stroke-width="1"/><rect x="1038.38" y="546.34" width="2.80" height="3.50" rx="1.2" fill="#fff" stroke="#1f3a6e" stroke-width="1"/><rect x="1038.38" y="518.97" width="2.80" height="27.37" rx="1.2" fill="#fff" stroke="#4a7fc0" stroke-width="1"/><rect x="1043.45" y="551.72" width="2.80" height="3.50" rx="1.2" fill="#fff" stroke="#1f3a6e" stroke-width="1"/><rect x="1043.45" y="527.93" width="2.80" height="23.78" rx="1.2" fill="#fff" stroke="#4a7fc0" stroke-width="1"/><rect x="1048.51" y="547.77" width="2.80" height="3.50" rx="1.2" fill="#fff" stroke="#1f3a6e" stroke-width="1"/><rect x="1048.51" y="518.97" width="2.80" height="28.80" rx="1.2" fill="#fff" stroke="#4a7fc0" stroke-width="1"/></g>
<g font-family="Liberation Sans, sans-serif" font-weight="bold" font-size="6.6" text-anchor="middle" fill="#111"><text x="123.20" y="694.6">13</text><text x="133.33" y="694.6">15</text><text x="143.46" y="694.6">17</text><text x="153.58" y="694.6">19</text><text x="163.71" y="694.6">21</text><text x="173.84" y="694.6">23</text><text x="183.97" y="694.6">25</text><text x="194.10" y="694.6">27</text><text x="204.22" y="694.6">29</text><text x="214.35" y="694.6">1</text><text x="224.48" y="694.6">3</text><text x="234.61" y="694.6">5</text><text x="244.74" y="694.6">7</text><text x="254.86" y="694.6">9</text><text x="264.99" y="694.6">11</text><text x="275.12" y="694.6">13</text><text x="285.25" y="694.6">15</text><text x="295.38" y="694.6">17</text><text x="305.50" y="694.6">19</text><text x="315.63" y="694.6">21</text><text x="325.76" y="694.6">23</text><text x="335.89" y="694.6">25</text><text x="346.02" y="694.6">27</text><text x="356.14" y="694.6">29</text><text x="366.27" y="694.6">31</text><text x="376.40" y="694.6">2</text><text x="386.53" y="694.6">4</text><text x="396.66" y="694.6">6</text><text x="406.78" y="694.6">8</text><text x="416.91" y="694.6">10</text><text x="427.04" y="694.6">12</text><text x="437.17" y="694.6">14</text><text x="447.30" y="694.6">16</text><text x="457.42" y="694.6">18</text><text x="467.55" y="694.6">20</text><text x="477.68" y="694.6">22</text><text x="487.81" y="694.6">24</text><text x="497.94" y="694.6">26</text><text x="508.06" y="694.6">28</text><text x="518.19" y="694.6">30</text><text x="528.32" y="694.6">2</text><text x="538.45" y="694.6">4</text><text x="548.58" y="694.6">6</text><text x="558.70" y="694.6">8</text><text x="568.83" y="694.6">10</text><text x="578.96" y="694.6">12</text><text x="589.09" y="694.6">14</text><text x="599.22" y="694.6">16</text><text x="609.34" y="694.6">18</text><text x="619.47" y="694.6">20</text><text x="629.60" y="694.6">22</text><text x="639.73" y="694.6">24</text><text x="649.86" y="694.6">26</text><text x="659.98" y="694.6">28</text><text x="670.11" y="694.6">30</text><text x="680.24" y="694.6">1</text><text x="690.37" y="694.6">3</text><text x="700.50" y="694.6">5</text><text x="710.62" y="694.6">7</text><text x="720.75" y="694.6">9</text><text x="730.88" y="694.6">11</text><text x="741.01" y="694.6">13</text><text x="751.14" y="694.6">15</text><text x="761.26" y="694.6">17</text><text x="771.39" y="694.6">19</text><text x="781.52" y="694.6">21</text><text x="791.65" y="694.6">23</text><text x="801.78" y="694.6">25</text><text x="811.90" y="694.6">27</text><text x="822.03" y="694.6">29</text><text x="832.16" y="694.6">31</text><text x="842.29" y="694.6">2</text><text x="852.42" y="694.6">4</text><text x="862.54" y="694.6">6</text><text x="872.67" y="694.6">8</text><text x="882.80" y="694.6">10</text><text x="892.93" y="694.6">12</text><text x="903.06" y="694.6">14</text><text x="913.18" y="694.6">16</text><text x="923.31" y="694.6">18</text><text x="933.44" y="694.6">20</text><text x="943.57" y="694.6">22</text><text x="953.70" y="694.6">24</text><text x="963.82" y="694.6">26</text><text x="973.95" y="694.6">28</text><text x="984.08" y="694.6">30</text><text x="994.21" y="694.6">2</text><text x="1004.34" y="694.6">4</text><text x="1014.46" y="694.6">6</text><text x="1024.59" y="694.6">8</text><text x="1034.72" y="694.6">10</text><text x="1044.85" y="694.6">12</text></g>
<g><path d="M119.90 695.8 V702.6 Q119.90 704.6 121.90 704.6 H207.50 Q209.50 704.6 209.50 702.6 V695.8" fill="none" stroke="#5f5f5f" stroke-width="1.5"/><path d="M214.10 695.8 V702.6 Q214.10 704.6 216.10 704.6 H363.70 Q365.70 704.6 365.70 702.6 V695.8" fill="none" stroke="#5f5f5f" stroke-width="1.5"/><path d="M372.00 695.8 V702.6 Q372.00 704.6 374.00 704.6 H515.00 Q517.00 704.6 517.00 702.6 V695.8" fill="none" stroke="#5f5f5f" stroke-width="1.5"/><path d="M523.50 695.8 V702.6 Q523.50 704.6 525.50 704.6 H669.90 Q671.90 704.6 671.90 702.6 V695.8" fill="none" stroke="#5f5f5f" stroke-width="1.5"/><path d="M678.50 695.8 V702.6 Q678.50 704.6 680.50 704.6 H829.40 Q831.40 704.6 831.40 702.6 V695.8" fill="none" stroke="#5f5f5f" stroke-width="1.5"/><path d="M837.90 695.8 V702.6 Q837.90 704.6 839.90 704.6 H984.00 Q986.00 704.6 986.00 702.6 V695.8" fill="none" stroke="#5f5f5f" stroke-width="1.5"/><path d="M989.90 695.8 V702.6 Q989.90 704.6 991.90 704.6 H1047.60 Q1049.60 704.6 1049.60 702.6 V695.8" fill="none" stroke="#5f5f5f" stroke-width="1.5"/></g>
<path d="M580.5 441 L597.4 470.8 L583.2 470.8 L583.2 495 L577.4 495 L577.4 470.8 L563.7 470.8 Z" fill="#597695"/>
<rect x="453" y="491.7" width="257" height="81.8" rx="23" fill="#597695"/>
</svg>
<div class="t tl" style="left:36.7px;top:46px;font-size:35px;letter-spacing:0.6px">開幕</div><div class="t tl" style="left:118px;top:44px;font-size:35px;font-weight:400;letter-spacing:0px">(</div><div class="t tl" style="left:132.3px;top:43.8px;font-size:39px;-webkit-text-stroke:0.4px #303a4c;letter-spacing:2.2px">2025</div><div class="t tl" style="left:225.4px;top:46px;font-size:35px;letter-spacing:0px">年</div><div class="t tl" style="left:261px;top:43.8px;font-size:39px;-webkit-text-stroke:0.4px #303a4c;letter-spacing:0px">4</div><div class="t tl" style="left:283.9px;top:46px;font-size:35px;letter-spacing:0px">月</div><div class="t tl" style="left:321.5px;top:43.8px;font-size:39px;-webkit-text-stroke:0.4px #303a4c;letter-spacing:0px">1</div><div class="t tl" style="left:342.2px;top:43.8px;font-size:39px;-webkit-text-stroke:0.4px #303a4c;letter-spacing:0px">3</div><div class="t tl" style="left:367.8px;top:46px;font-size:35px;letter-spacing:0px">日</div><div class="t tl" style="left:403px;top:44px;font-size:35px;letter-spacing:0px">)</div><div class="t tl" style="left:425px;top:46px;font-size:35px;letter-spacing:0.6px">からの来場者輸送実績</div>
<div class="t unit">（人）</div>
<div class="t" id="ct" style="left:402.50px;top:148.50px;font-size:20px;font-weight:bold;letter-spacing:-0.007px;color:#111;">大阪・関西万博　来場者輸送実績</div>
<div class="t" id="cd" style="left:846.00px;top:150.60px;font-size:20px;letter-spacing:1.655px;color:#111;">4月13日〜10月13日</div>
<div class="yl" style="top:675.0px">0</div><div class="yl" style="top:577.8px">50,000</div><div class="yl" style="top:480.6px">100,000</div><div class="yl" style="top:383.3px">150,000</div><div class="yl" style="top:286.1px">200,000</div><div class="yl" style="top:188.9px">250,000</div>
<div class="ml" style="left:134.1px">4月</div><div class="ml" style="left:259.9px">5月</div><div class="ml" style="left:414.4px">6月</div><div class="ml" style="left:574.4px">7月</div><div class="ml" style="left:726.0px">8月</div><div class="ml" style="left:880.7px">9月</div><div class="ml" style="left:991.2px">10月</div>
<div class="lsq" style="left:105.4px;top:737.4px;background:#4a86c8"></div><div class="t" id="lg0" style="left:119.30px;top:732.90px;font-size:16px;font-weight:bold;letter-spacing:-0.288px;color:#111;">鉄道(Osaka Metro中央線)</div><div class="lsq" style="left:348.5px;top:737.4px;background:#fff;border:1.3px solid #4a7fc0;box-sizing:border-box"></div><div class="t" id="lg1" style="left:362.20px;top:732.90px;font-size:16px;font-weight:bold;letter-spacing:0.360px;color:#111;">東<span style="display:inline-block;width:16px;height:12px;vertical-align:-1px"><svg width="16" height="12" viewBox="0 0 16 12"><path d="M1.5 6.2H13.5M8.5 1.6L13.8 6.2L8.5 10.8" fill="none" stroke="#111" stroke-width="2.1"/></svg></span>西徒歩(外周徒歩)</div><div class="lsq" style="left:591.3px;top:737.4px;background:#fff;border:1.3px solid #264478;box-sizing:border-box"></div><div class="t" id="lg2" style="left:605.00px;top:732.90px;font-size:16px;font-weight:bold;letter-spacing:-0.077px;color:#111;">東<span style="display:inline-block;width:16px;height:12px;vertical-align:-1px"><svg width="16" height="12" viewBox="0 0 16 12"><path d="M1.5 6.2H13.5M8.5 1.6L13.8 6.2L8.5 10.8" fill="none" stroke="#111" stroke-width="2.1"/></svg></span>西バス(e-Mover)</div><div class="lsq" style="left:834.8px;top:737.4px;background:#264478"></div><div class="t" id="lg3" style="left:848.30px;top:732.90px;font-size:16px;font-weight:bold;letter-spacing:0.678px;color:#111;">東西連絡シャトルバス</div><div class="lsq" style="left:105.4px;top:755.6px;background:#ed7d31"></div><div class="t" id="lg4" style="left:119.30px;top:751.10px;font-size:16px;font-weight:bold;letter-spacing:0.812px;color:#111;">桜島駅シャトルバス</div><div class="lsq" style="left:348.5px;top:755.6px;background:#a5a5a5"></div><div class="t" id="lg5" style="left:362.20px;top:751.10px;font-size:16px;font-weight:bold;letter-spacing:0.750px;color:#111;">桜島以外駅シャトルバス</div><div class="lsq" style="left:591.3px;top:755.6px;background:#ffc000"></div><div class="t" id="lg6" style="left:604.00px;top:751.10px;font-size:16px;font-weight:bold;letter-spacing:1.400px;color:#111;">空港バス</div><div class="lsq" style="left:834.8px;top:755.6px;background:#4472c4"></div><div class="t" id="lg7" style="left:848.30px;top:751.10px;font-size:16px;font-weight:bold;letter-spacing:0.740px;color:#111;">中長距離バス</div><div class="lsq" style="left:105.4px;top:773.9px;background:#70ad47"></div><div class="t" id="lg8" style="left:118.30px;top:769.60px;font-size:16px;font-weight:bold;letter-spacing:1.233px;color:#111;">団体バス</div><div class="lsq" style="left:348.5px;top:773.9px;background:#c55a11"></div><div class="t" id="lg9" style="left:361.20px;top:769.60px;font-size:16px;font-weight:bold;letter-spacing:-0.150px;color:#111;">P＆R(駐車場)等</div><div class="lsq" style="left:591.3px;top:773.9px;background:#595959"></div><div class="t" id="lg10" style="left:603.00px;top:769.60px;font-size:16px;font-weight:bold;letter-spacing:1.400px;color:#111;">タクシー</div><div class="lsq" style="left:834.8px;top:773.9px;background:#997300"></div><div class="t" id="lg11" style="left:848.30px;top:769.60px;font-size:16px;font-weight:bold;letter-spacing:0.683px;color:#111;">船シャトルバス</div>
<div class="t" id="fn1" style="left:68.90px;top:811.20px;font-size:17px;letter-spacing:-0.095px;color:#333;">※数値については全て博覧会協会における推計。</div>
<div class="t" id="fn2" style="left:69.20px;top:831.50px;font-size:17px;letter-spacing:-0.191px;color:#333;">　来場手段別の数値については速報版であり、今後変更する可能性がある。</div>
<div class="t" id="src" style="left:37.00px;top:890.00px;font-size:20px;letter-spacing:1.018px;color:#5c636d;">出所：大阪・関西万博 公式Webサイトより引用</div>
<div class="t" id="logo" style="left:927.80px;top:949.50px;font-size:22px;font-weight:900;transform:scaleY(0.78);transform-origin:0 0;letter-spacing:0.640px;color:#4b505a;-webkit-text-stroke:0.4px #4b505a">モニクル総研</div>
<div class="t" id="tip1" style="left:495.30px;top:503.50px;font-size:23px;letter-spacing:1.567px;color:#fff;-webkit-text-stroke:0.5px #fff">2023年3月31日</div>
<div class="t" id="tip2" style="left:537.80px;top:535.00px;font-size:29px;transform:scaleX(1.19);transform-origin:0 0;letter-spacing:0.525px;color:#fff;-webkit-text-stroke:0.6px #fff">2,000</div>
</body></html>
